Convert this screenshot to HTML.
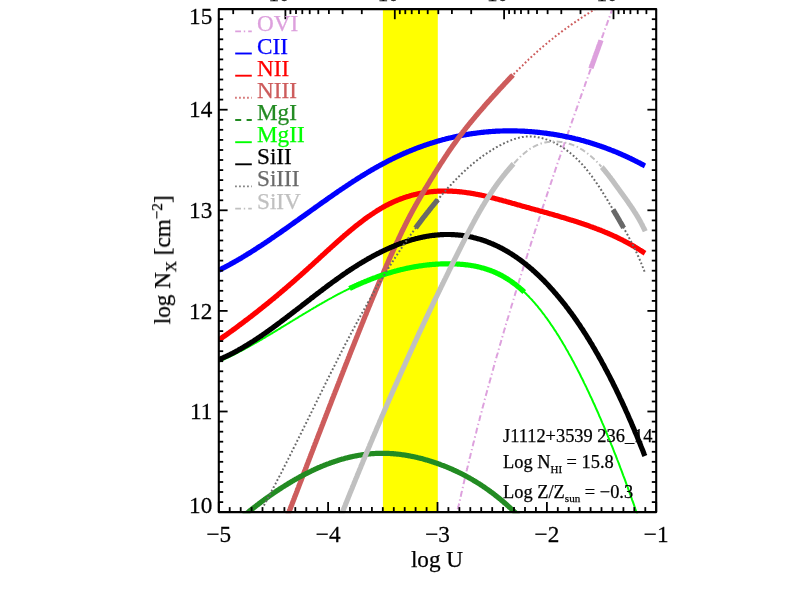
<!DOCTYPE html>
<html><head><meta charset="utf-8"><title>log N vs log U</title>
<style>html,body{margin:0;padding:0;background:#fff;}body{width:789px;height:599px;overflow:hidden;}svg{display:block;}text{font-family:"Liberation Serif",serif;fill:#000;}</style></head><body>
<svg width="789" height="599" viewBox="0 0 789 599">
<rect x="0" y="0" width="789" height="599" fill="#fff"/>
<defs><clipPath id="c"><rect x="218.0" y="8.3" width="439.0" height="505.0"/></clipPath><filter id="g" filterUnits="userSpaceOnUse" x="0" y="0" width="789" height="599"><feOffset dx="0" dy="0"/></filter></defs>
<rect x="382.9" y="9.1" width="54.9" height="503.0" fill="#ffff00"/>
<g clip-path="url(#c)" fill="none" stroke-linejoin="round">
<path d="M455.0 522.0 L455.2 521.3 L455.3 520.6 L455.5 519.8 L455.6 519.1 L455.8 518.4 L456.0 517.6 L456.1 516.9 L456.3 516.2 L456.4 515.4 L456.6 514.7 L456.8 514.0 L456.9 513.2 L457.1 512.5 L457.2 511.8 L457.4 511.0 L457.6 510.3 L457.7 509.6 L457.9 508.8 L458.0 508.1 L458.2 507.4 L458.4 506.6 L458.5 505.9 L458.7 505.2 L458.9 504.4 L459.0 503.7 L459.2 503.0 L459.4 502.2 L459.5 501.5 L459.7 500.8 L459.9 500.1 L460.0 499.3 L460.2 498.6 L460.4 497.9 L460.5 497.1 L460.7 496.4 L460.9 495.7 L461.0 494.9 L461.2 494.2 L461.4 493.5 L461.5 492.7 L461.7 492.0 L461.9 491.3 L462.0 490.5 L462.2 489.8 L462.4 489.1 L462.5 488.3 L462.7 487.6 L462.9 486.9 L463.0 486.2 L463.2 485.4 L463.4 484.7 L463.5 484.0 L463.7 483.2 L463.9 482.5 L464.1 481.8 L464.2 481.0 L464.4 480.3 L464.6 479.6 L464.7 478.9 L464.9 478.1 L465.1 477.4 L465.3 476.7 L465.4 475.9 L465.6 475.2 L465.8 474.5 L466.0 473.7 L466.1 473.0 L466.3 472.3 L466.5 471.6 L466.6 470.8 L466.8 470.1 L467.0 469.4 L467.2 468.6 L467.3 467.9 L467.5 467.2 L467.7 466.4 L467.9 465.7 L468.0 465.0 L468.2 464.3 L468.4 463.5 L468.6 462.8 L468.8 462.1 L468.9 461.3 L469.1 460.6 L469.3 459.9 L469.5 459.2 L469.6 458.4 L469.8 457.7 L470.0 457.0 L470.2 456.2 L470.4 455.5 L470.5 454.8 L470.7 454.1 L470.9 453.3 L471.1 452.6 L471.3 451.9 L471.4 451.1 L471.6 450.4 L471.8 449.7 L472.0 449.0 L472.2 448.2 L472.3 447.5 L472.5 446.8 L472.7 446.1 L472.9 445.3 L473.1 444.6 L473.2 443.9 L473.4 443.1 L473.6 442.4 L473.8 441.7 L474.0 441.0 L474.2 440.2 L474.3 439.5 L474.5 438.8 L474.7 438.1 L474.9 437.3 L475.1 436.6 L475.3 435.9 L475.4 435.1 L475.6 434.4 L475.8 433.7 L476.0 433.0 L476.2 432.2 L476.4 431.5 L476.6 430.8 L476.7 430.1 L476.9 429.3 L477.1 428.6 L477.3 427.9 L477.5 427.2 L477.7 426.4 L477.9 425.7 L478.1 425.0 L478.2 424.3 L478.4 423.5 L478.6 422.8 L478.8 422.1 L479.0 421.4 L479.2 420.6 L479.4 419.9 L479.6 419.2 L479.7 418.5 L479.9 417.7 L480.1 417.0 L480.3 416.3 L480.5 415.6 L480.7 414.8 L480.9 414.1 L481.1 413.4 L481.3 412.7 L481.5 411.9 L481.7 411.2 L481.8 410.5 L482.0 409.8 L482.2 409.0 L482.4 408.3 L482.6 407.6 L482.8 406.9 L483.0 406.1 L483.2 405.4 L483.4 404.7 L483.6 404.0 L483.8 403.2 L484.0 402.5 L484.2 401.8 L484.3 401.1 L484.5 400.3 L484.7 399.6 L484.9 398.9 L485.1 398.2 L485.3 397.4 L485.5 396.7 L485.7 396.0 L485.9 395.3 L486.1 394.5 L486.3 393.8 L486.5 393.1 L486.7 392.4 L486.9 391.6 L487.1 390.9 L487.3 390.2 L487.5 389.5 L487.7 388.8 L487.9 388.0 L488.1 387.3 L488.3 386.6 L488.5 385.9 L488.7 385.1 L488.9 384.4 L489.1 383.7 L489.3 383.0 L489.5 382.2 L489.7 381.5 L489.9 380.8 L490.1 380.1 L490.3 379.4 L490.5 378.6 L490.7 377.9 L490.9 377.2 L491.1 376.5 L491.3 375.7 L491.5 375.0 L491.7 374.3 L491.9 373.6 L492.1 372.9 L492.3 372.1 L492.5 371.4 L492.7 370.7 L492.9 370.0 L493.1 369.2 L493.3 368.5 L493.5 367.8 L493.7 367.1 L493.9 366.4 L494.1 365.6 L494.3 364.9 L494.5 364.2 L494.7 363.5 L494.9 362.8 L495.1 362.0 L495.3 361.3 L495.5 360.6 L495.7 359.9 L495.9 359.1 L496.1 358.4 L496.3 357.7 L496.5 357.0 L496.7 356.3 L496.9 355.5 L497.1 354.8 L497.4 354.1 L497.6 353.4 L497.8 352.7 L498.0 351.9 L498.2 351.2 L498.4 350.5 L498.6 349.8 L498.8 349.1 L499.0 348.3 L499.2 347.6 L499.4 346.9 L499.6 346.2 L499.8 345.5 L500.0 344.7 L500.2 344.0 L500.5 343.3 L500.7 342.6 L500.9 341.9 L501.1 341.1 L501.3 340.4 L501.5 339.7 L501.7 339.0 L501.9 338.3 L502.1 337.5 L502.3 336.8 L502.6 336.1 L502.8 335.4 L503.0 334.7 L503.2 333.9 L503.4 333.2 L503.6 332.5 L503.8 331.8 L504.0 331.1 L504.2 330.3 L504.4 329.6 L504.7 328.9 L504.9 328.2 L505.1 327.5 L505.3 326.7 L505.5 326.0 L505.7 325.3 L505.9 324.6 L506.1 323.9 L506.4 323.2 L506.6 322.4 L506.8 321.7 L507.0 321.0 L507.2 320.3 L507.4 319.6 L507.6 318.8 L507.9 318.1 L508.1 317.4 L508.3 316.7 L508.5 316.0 L508.7 315.3 L508.9 314.5 L509.1 313.8 L509.4 313.1 L509.6 312.4 L509.8 311.7 L510.0 310.9 L510.2 310.2 L510.4 309.5 L510.7 308.8 L510.9 308.1 L511.1 307.4 L511.3 306.6 L511.5 305.9 L511.7 305.2 L512.0 304.5 L512.2 303.8 L512.4 303.0 L512.6 302.3 L512.8 301.6 L513.0 300.9 L513.3 300.2 L513.5 299.5 L513.7 298.7 L513.9 298.0 L514.1 297.3 L514.4 296.6 L514.6 295.9 L514.8 295.2 L515.0 294.4 L515.2 293.7 L515.5 293.0 L515.7 292.3 L515.9 291.6 L516.1 290.9 L516.3 290.1 L516.6 289.4 L516.8 288.7 L517.0 288.0 L517.2 287.3 L517.4 286.6 L517.7 285.8 L517.9 285.1 L518.1 284.4 L518.3 283.7 L518.5 283.0 L518.8 282.3 L519.0 281.5 L519.2 280.8 L519.4 280.1 L519.6 279.4 L519.9 278.7 L520.1 278.0 L520.3 277.3 L520.5 276.5 L520.8 275.8 L521.0 275.1 L521.2 274.4 L521.4 273.7 L521.7 273.0 L521.9 272.2 L522.1 271.5 L522.3 270.8 L522.6 270.1 L522.8 269.4 L523.0 268.7 L523.2 268.0 L523.5 267.2 L523.7 266.5 L523.9 265.8 L524.1 265.1 L524.4 264.4 L524.6 263.7 L524.8 262.9 L525.0 262.2 L525.3 261.5 L525.5 260.8 L525.7 260.1 L525.9 259.4 L526.2 258.7 L526.4 257.9 L526.6 257.2 L526.8 256.5 L527.1 255.8 L527.3 255.1 L527.5 254.4 L527.7 253.7 L528.0 252.9 L528.2 252.2 L528.4 251.5 L528.7 250.8 L528.9 250.1 L529.1 249.4 L529.3 248.7 L529.6 247.9 L529.8 247.2 L530.0 246.5 L530.3 245.8 L530.5 245.1 L530.7 244.4 L530.9 243.7 L531.2 242.9 L531.4 242.2 L531.6 241.5 L531.9 240.8 L532.1 240.1 L532.3 239.4 L532.6 238.7 L532.8 237.9 L533.0 237.2 L533.2 236.5 L533.5 235.8 L533.7 235.1 L533.9 234.4 L534.2 233.7 L534.4 233.0 L534.6 232.2 L534.9 231.5 L535.1 230.8 L535.3 230.1 L535.6 229.4 L535.8 228.7 L536.0 228.0 L536.3 227.2 L536.5 226.5 L536.7 225.8 L537.0 225.1 L537.2 224.4 L537.4 223.7 L537.7 223.0 L537.9 222.3 L538.1 221.5 L538.4 220.8 L538.6 220.1 L538.8 219.4 L539.1 218.7 L539.3 218.0 L539.5 217.3 L539.8 216.6 L540.0 215.8 L540.2 215.1 L540.5 214.4 L540.7 213.7 L540.9 213.0 L541.2 212.3 L541.4 211.6 L541.6 210.9 L541.9 210.1 L542.1 209.4 L542.3 208.7 L542.6 208.0 L542.8 207.3 L543.0 206.6 L543.3 205.9 L543.5 205.2 L543.7 204.5 L544.0 203.7 L544.2 203.0 L544.5 202.3 L544.7 201.6 L544.9 200.9 L545.2 200.2 L545.4 199.5 L545.6 198.8 L545.9 198.0 L546.1 197.3 L546.4 196.6 L546.6 195.9 L546.8 195.2 L547.1 194.5 L547.3 193.8 L547.5 193.1 L547.8 192.4 L548.0 191.6 L548.3 190.9 L548.5 190.2 L548.7 189.5 L549.0 188.8 L549.2 188.1 L549.4 187.4 L549.7 186.7 L549.9 186.0 L550.2 185.2 L550.4 184.5 L550.6 183.8 L550.9 183.1 L551.1 182.4 L551.4 181.7 L551.6 181.0 L551.8 180.3 L552.1 179.6 L552.3 178.9 L552.6 178.1 L552.8 177.4 L553.0 176.7 L553.3 176.0 L553.5 175.3 L553.8 174.6 L554.0 173.9 L554.2 173.2 L554.5 172.5 L554.7 171.8 L555.0 171.0 L555.2 170.3 L555.4 169.6 L555.7 168.9 L555.9 168.2 L556.2 167.5 L556.4 166.8 L556.7 166.1 L556.9 165.4 L557.1 164.7 L557.4 163.9 L557.6 163.2 L557.9 162.5 L558.1 161.8 L558.4 161.1 L558.6 160.4 L558.8 159.7 L559.1 159.0 L559.3 158.3 L559.6 157.6 L559.8 156.8 L560.1 156.1 L560.3 155.4 L560.5 154.7 L560.8 154.0 L561.0 153.3 L561.3 152.6 L561.5 151.9 L561.8 151.2 L562.0 150.5 L562.2 149.8 L562.5 149.0 L562.7 148.3 L563.0 147.6 L563.2 146.9 L563.5 146.2 L563.7 145.5 L564.0 144.8 L564.2 144.1 L564.4 143.4 L564.7 142.7 L564.9 142.0 L565.2 141.2 L565.4 140.5 L565.7 139.8 L565.9 139.1 L566.2 138.4 L566.4 137.7 L566.7 137.0 L566.9 136.3 L567.1 135.6 L567.4 134.9 L567.6 134.2 L567.9 133.5 L568.1 132.7 L568.4 132.0 L568.6 131.3 L568.9 130.6 L569.1 129.9 L569.4 129.2 L569.6 128.5 L569.9 127.8 L570.1 127.1 L570.4 126.4 L570.6 125.7 L570.8 125.0 L571.1 124.2 L571.3 123.5 L571.6 122.8 L571.8 122.1 L572.1 121.4 L572.3 120.7 L572.6 120.0 L572.8 119.3 L573.1 118.6 L573.3 117.9 L573.6 117.2 L573.8 116.5 L574.1 115.8 L574.3 115.0 L574.6 114.3 L574.8 113.6 L575.1 112.9 L575.3 112.2 L575.6 111.5 L575.8 110.8 L576.1 110.1 L576.3 109.4 L576.6 108.7 L576.8 108.0 L577.1 107.3 L577.3 106.6 L577.6 105.9 L577.8 105.1 L578.1 104.4 L578.3 103.7 L578.5 103.0 L578.8 102.3 L579.0 101.6 L579.3 100.9 L579.5 100.2 L579.8 99.5 L580.0 98.8 L580.3 98.1 L580.5 97.4 L580.8 96.7 L581.1 96.0 L581.3 95.2 L581.6 94.5 L581.8 93.8 L582.1 93.1 L582.3 92.4 L582.6 91.7 L582.8 91.0 L583.1 90.3 L583.3 89.6 L583.6 88.9 L583.8 88.2 L584.1 87.5 L584.3 86.8 L584.6 86.1 L584.8 85.4 L585.1 84.7 L585.3 83.9 L585.6 83.2 L585.8 82.5 L586.1 81.8 L586.3 81.1 L586.6 80.4 L586.8 79.7 L587.1 79.0 L587.3 78.3 L587.6 77.6 L587.8 76.9 L588.1 76.2 L588.3 75.5 L588.6 74.8 L588.8 74.1 L589.1 73.4 L589.4 72.6 L589.6 71.9 L589.9 71.2 L590.1 70.5 L590.4 69.8 L590.6 69.1 L590.9 68.4 L591.1 67.7 L591.4 67.0 L591.6 66.3 L591.9 65.6 L592.1 64.9 L592.4 64.2 L592.6 63.5 L592.9 62.8 L593.1 62.1 L593.4 61.4 L593.7 60.7 L593.9 59.9 L594.2 59.2 L594.4 58.5 L594.7 57.8 L594.9 57.1 L595.2 56.4 L595.4 55.7 L595.7 55.0 L595.9 54.3 L596.2 53.6 L596.5 52.9 L596.7 52.2 L597.0 51.5 L597.2 50.8 L597.5 50.1 L597.7 49.4 L598.0 48.7 L598.2 48.0 L598.5 47.3 L598.7 46.5 L599.0 45.8 L599.3 45.1 L599.5 44.4 L599.8 43.7 L600.0 43.0 L600.3 42.3 L600.5 41.6 L600.8 40.9 L601.0 40.2 L601.3 39.5 L601.5 38.8 L601.8 38.1 L602.1 37.4 L602.3 36.7 L602.6 36.0 L602.8 35.3 L603.1 34.6 L603.3 33.9 L603.6 33.2 L603.8 32.5 L604.1 31.7 L604.4 31.0 L604.6 30.3 L604.9 29.6 L605.1 28.9 L605.4 28.2 L605.6 27.5 L605.9 26.8 L606.2 26.1 L606.4 25.4 L606.7 24.7 L606.9 24.0 L607.2 23.3 L607.4 22.6 L607.7 21.9 L607.9 21.2 L608.2 20.5 L608.5 19.8 L608.7 19.1 L609.0 18.4 L609.2 17.7 L609.5 17.0 L609.7 16.3 L610.0 15.6 L610.3 14.8 L610.5 14.1 L610.8 13.4 L611.0 12.7 L611.3 12.0 L611.5 11.3 L611.8 10.6 L612.1 9.9 L612.3 9.2 L612.6 8.5 L612.8 7.8 L613.1 7.1 L613.3 6.4 L613.6 5.7 L613.9 5.0 L614.1 4.3 L614.4 3.6 L614.6 2.9 L614.9 2.2 L615.1 1.5 L615.4 0.8 L615.7 0.1" stroke="#dda0dd" stroke-width="2.0" stroke-dasharray="6 2.8 1.4 2.8"/>
<path d="M590.9 68.4 L591.1 67.7 L591.4 67.0 L591.6 66.3 L591.9 65.6 L592.1 64.9 L592.4 64.2 L592.6 63.5 L592.9 62.8 L593.1 62.1 L593.4 61.4 L593.7 60.7 L593.9 59.9 L594.2 59.2 L594.4 58.5 L594.7 57.8 L594.9 57.1 L595.2 56.4 L595.4 55.7 L595.7 55.0 L595.9 54.3 L596.2 53.6 L596.5 52.9 L596.7 52.2 L597.0 51.5 L597.2 50.8 L597.5 50.1 L597.7 49.4 L598.0 48.7 L598.2 48.0 L598.5 47.3 L598.7 46.5 L599.0 45.8 L599.3 45.1 L599.5 44.4 L599.8 43.7 L600.0 43.0 L600.3 42.3 L600.5 41.6 L600.8 40.9 L601.0 40.2" stroke="#dda0dd" stroke-width="5.2"/>
<path d="M219.0 270.1 L219.8 269.8 L220.5 269.4 L221.2 269.0 L222.0 268.6 L222.8 268.2 L223.5 267.9 L224.2 267.5 L225.0 267.1 L225.8 266.7 L226.5 266.3 L227.2 265.9 L228.0 265.5 L228.8 265.1 L229.5 264.7 L230.2 264.3 L231.0 263.8 L231.8 263.4 L232.5 263.0 L233.2 262.6 L234.0 262.2 L234.8 261.7 L235.5 261.3 L236.2 260.9 L237.0 260.5 L237.8 260.0 L238.5 259.6 L239.2 259.2 L240.0 258.7 L240.8 258.3 L241.5 257.8 L242.2 257.4 L243.0 256.9 L243.8 256.5 L244.5 256.0 L245.2 255.6 L246.0 255.1 L246.8 254.7 L247.5 254.2 L248.2 253.7 L249.0 253.3 L249.8 252.8 L250.5 252.3 L251.2 251.9 L252.0 251.4 L252.8 250.9 L253.5 250.4 L254.2 250.0 L255.0 249.5 L255.8 249.0 L256.5 248.5 L257.2 248.0 L258.0 247.5 L258.8 247.0 L259.5 246.6 L260.2 246.1 L261.0 245.6 L261.8 245.1 L262.5 244.6 L263.2 244.1 L264.0 243.6 L264.8 243.1 L265.5 242.6 L266.2 242.1 L267.0 241.6 L267.8 241.1 L268.5 240.6 L269.2 240.1 L270.0 239.6 L270.8 239.0 L271.5 238.5 L272.2 238.0 L273.0 237.5 L273.8 237.0 L274.5 236.5 L275.2 236.0 L276.0 235.4 L276.8 234.9 L277.5 234.4 L278.2 233.9 L279.0 233.4 L279.8 232.8 L280.5 232.3 L281.2 231.8 L282.0 231.3 L282.8 230.7 L283.5 230.2 L284.2 229.7 L285.0 229.2 L285.8 228.6 L286.5 228.1 L287.2 227.6 L288.0 227.0 L288.8 226.5 L289.5 226.0 L290.2 225.4 L291.0 224.9 L291.8 224.4 L292.5 223.8 L293.2 223.3 L294.0 222.8 L294.8 222.2 L295.5 221.7 L296.2 221.2 L297.0 220.6 L297.8 220.1 L298.5 219.6 L299.2 219.0 L300.0 218.5 L300.8 217.9 L301.5 217.4 L302.2 216.9 L303.0 216.3 L303.8 215.8 L304.5 215.3 L305.2 214.7 L306.0 214.2 L306.8 213.6 L307.5 213.1 L308.2 212.6 L309.0 212.0 L309.8 211.5 L310.5 211.0 L311.2 210.4 L312.0 209.9 L312.8 209.4 L313.5 208.8 L314.2 208.3 L315.0 207.7 L315.8 207.2 L316.5 206.7 L317.2 206.1 L318.0 205.6 L318.8 205.1 L319.5 204.5 L320.2 204.0 L321.0 203.5 L321.8 202.9 L322.5 202.4 L323.2 201.9 L324.0 201.4 L324.8 200.8 L325.5 200.3 L326.2 199.8 L327.0 199.2 L327.8 198.7 L328.5 198.2 L329.2 197.7 L330.0 197.1 L330.8 196.6 L331.5 196.1 L332.2 195.6 L333.0 195.0 L333.8 194.5 L334.5 194.0 L335.2 193.5 L336.0 193.0 L336.8 192.5 L337.5 191.9 L338.2 191.4 L339.0 190.9 L339.8 190.4 L340.5 189.9 L341.2 189.4 L342.0 188.9 L342.8 188.4 L343.5 187.9 L344.2 187.4 L345.0 186.9 L345.8 186.4 L346.5 185.9 L347.2 185.4 L348.0 184.9 L348.8 184.4 L349.5 183.9 L350.2 183.4 L351.0 182.9 L351.8 182.4 L352.5 181.9 L353.2 181.4 L354.0 180.9 L354.8 180.5 L355.5 180.0 L356.2 179.5 L357.0 179.0 L357.8 178.5 L358.5 178.1 L359.2 177.6 L360.0 177.1 L360.8 176.6 L361.5 176.2 L362.2 175.7 L363.0 175.3 L363.8 174.8 L364.5 174.3 L365.2 173.9 L366.0 173.4 L366.8 173.0 L367.5 172.5 L368.2 172.1 L369.0 171.6 L369.8 171.2 L370.5 170.7 L371.2 170.3 L372.0 169.8 L372.8 169.4 L373.5 169.0 L374.2 168.5 L375.0 168.1 L375.8 167.7 L376.5 167.3 L377.2 166.8 L378.0 166.4 L378.8 166.0 L379.5 165.6 L380.2 165.2 L381.0 164.8 L381.8 164.4 L382.5 164.0 L383.2 163.6 L384.0 163.2 L384.8 162.8 L385.5 162.4 L386.2 162.0 L387.0 161.6 L387.8 161.2 L388.5 160.8 L389.2 160.4 L390.0 160.0 L390.8 159.7 L391.5 159.3 L392.2 158.9 L393.0 158.6 L393.8 158.2 L394.5 157.8 L395.2 157.5 L396.0 157.1 L396.8 156.8 L397.5 156.4 L398.2 156.1 L399.0 155.7 L399.8 155.4 L400.5 155.0 L401.2 154.7 L402.0 154.3 L402.8 154.0 L403.5 153.7 L404.2 153.3 L405.0 153.0 L405.8 152.7 L406.5 152.4 L407.2 152.0 L408.0 151.7 L408.8 151.4 L409.5 151.1 L410.2 150.8 L411.0 150.5 L411.8 150.2 L412.5 149.9 L413.2 149.6 L414.0 149.3 L414.8 149.0 L415.5 148.7 L416.2 148.4 L417.0 148.1 L417.8 147.8 L418.5 147.6 L419.2 147.3 L420.0 147.0 L420.8 146.7 L421.5 146.4 L422.2 146.2 L423.0 145.9 L423.8 145.6 L424.5 145.4 L425.2 145.1 L426.0 144.9 L426.8 144.6 L427.5 144.4 L428.2 144.1 L429.0 143.9 L429.8 143.6 L430.5 143.4 L431.2 143.1 L432.0 142.9 L432.8 142.7 L433.5 142.4 L434.2 142.2 L435.0 142.0 L435.8 141.7 L436.5 141.5 L437.2 141.3 L438.0 141.1 L438.8 140.9 L439.5 140.6 L440.2 140.4 L441.0 140.2 L441.8 140.0 L442.5 139.8 L443.2 139.6 L444.0 139.4 L444.8 139.2 L445.5 139.0 L446.2 138.8 L447.0 138.6 L447.8 138.5 L448.5 138.3 L449.2 138.1 L450.0 137.9 L450.8 137.7 L451.5 137.6 L452.2 137.4 L453.0 137.2 L453.8 137.0 L454.5 136.9 L455.2 136.7 L456.0 136.5 L456.8 136.4 L457.5 136.2 L458.2 136.1 L459.0 135.9 L459.8 135.8 L460.5 135.6 L461.2 135.5 L462.0 135.3 L462.8 135.2 L463.5 135.1 L464.2 134.9 L465.0 134.8 L465.8 134.7 L466.5 134.5 L467.2 134.4 L468.0 134.3 L468.8 134.2 L469.5 134.0 L470.2 133.9 L471.0 133.8 L471.8 133.7 L472.5 133.6 L473.2 133.5 L474.0 133.4 L474.8 133.3 L475.5 133.2 L476.2 133.1 L477.0 133.0 L477.8 132.9 L478.5 132.8 L479.2 132.7 L480.0 132.6 L480.8 132.5 L481.5 132.4 L482.2 132.3 L483.0 132.3 L483.8 132.2 L484.5 132.1 L485.2 132.0 L486.0 132.0 L486.8 131.9 L487.5 131.8 L488.2 131.8 L489.0 131.7 L489.8 131.6 L490.5 131.6 L491.2 131.5 L492.0 131.5 L492.8 131.4 L493.5 131.4 L494.2 131.3 L495.0 131.3 L495.8 131.2 L496.5 131.2 L497.2 131.2 L498.0 131.1 L498.8 131.1 L499.5 131.1 L500.2 131.0 L501.0 131.0 L501.8 131.0 L502.5 131.0 L503.2 130.9 L504.0 130.9 L504.8 130.9 L505.5 130.9 L506.2 130.9 L507.0 130.9 L507.8 130.9 L508.5 130.9 L509.2 130.9 L510.0 130.9 L510.8 130.9 L511.5 130.9 L512.2 130.9 L513.0 130.9 L513.8 130.9 L514.5 130.9 L515.2 130.9 L516.0 130.9 L516.8 130.9 L517.5 131.0 L518.2 131.0 L519.0 131.0 L519.8 131.0 L520.5 131.1 L521.2 131.1 L522.0 131.1 L522.8 131.2 L523.5 131.2 L524.2 131.2 L525.0 131.3 L525.8 131.3 L526.5 131.4 L527.2 131.4 L528.0 131.5 L528.8 131.5 L529.5 131.6 L530.2 131.6 L531.0 131.7 L531.8 131.7 L532.5 131.8 L533.2 131.9 L534.0 131.9 L534.8 132.0 L535.5 132.1 L536.2 132.1 L537.0 132.2 L537.8 132.3 L538.5 132.4 L539.2 132.4 L540.0 132.5 L540.8 132.6 L541.5 132.7 L542.2 132.8 L543.0 132.9 L543.8 133.0 L544.5 133.1 L545.2 133.2 L546.0 133.2 L546.8 133.3 L547.5 133.5 L548.2 133.6 L549.0 133.7 L549.8 133.8 L550.5 133.9 L551.2 134.0 L552.0 134.1 L552.8 134.2 L553.5 134.3 L554.2 134.5 L555.0 134.6 L555.8 134.7 L556.5 134.8 L557.2 135.0 L558.0 135.1 L558.8 135.2 L559.5 135.4 L560.2 135.5 L561.0 135.6 L561.8 135.8 L562.5 135.9 L563.2 136.1 L564.0 136.2 L564.8 136.4 L565.5 136.5 L566.2 136.7 L567.0 136.8 L567.8 137.0 L568.5 137.2 L569.2 137.3 L570.0 137.5 L570.8 137.6 L571.5 137.8 L572.2 138.0 L573.0 138.2 L573.8 138.3 L574.5 138.5 L575.2 138.7 L576.0 138.9 L576.8 139.1 L577.5 139.3 L578.2 139.4 L579.0 139.6 L579.8 139.8 L580.5 140.0 L581.2 140.2 L582.0 140.4 L582.8 140.6 L583.5 140.8 L584.2 141.0 L585.0 141.3 L585.8 141.5 L586.5 141.7 L587.2 141.9 L588.0 142.1 L588.8 142.3 L589.5 142.6 L590.2 142.8 L591.0 143.0 L591.8 143.3 L592.5 143.5 L593.2 143.7 L594.0 144.0 L594.8 144.2 L595.5 144.4 L596.2 144.7 L597.0 144.9 L597.8 145.2 L598.5 145.4 L599.2 145.7 L600.0 145.9 L600.8 146.2 L601.5 146.5 L602.2 146.7 L603.0 147.0 L603.8 147.3 L604.5 147.5 L605.2 147.8 L606.0 148.1 L606.8 148.4 L607.5 148.7 L608.2 148.9 L609.0 149.2 L609.8 149.5 L610.5 149.8 L611.2 150.1 L612.0 150.4 L612.8 150.7 L613.5 151.0 L614.2 151.3 L615.0 151.6 L615.8 151.9 L616.5 152.2 L617.2 152.5 L618.0 152.8 L618.8 153.2 L619.5 153.5 L620.2 153.8 L621.0 154.1 L621.8 154.5 L622.5 154.8 L623.2 155.1 L624.0 155.5 L624.8 155.8 L625.5 156.1 L626.2 156.5 L627.0 156.8 L627.8 157.2 L628.5 157.5 L629.2 157.9 L630.0 158.2 L630.8 158.6 L631.5 159.0 L632.2 159.3 L633.0 159.7 L633.8 160.1 L634.5 160.4 L635.2 160.8 L636.0 161.2 L636.8 161.6 L637.5 161.9 L638.2 162.3 L639.0 162.7 L639.8 163.1 L640.5 163.5 L641.2 163.9 L642.0 164.3 L642.8 164.7 L643.5 165.1 L644.2 165.5 L645.0 165.9" stroke="#0000ff" stroke-width="5.2"/>
<path d="M219.0 339.8 L219.8 339.3 L220.5 338.8 L221.2 338.3 L222.0 337.8 L222.8 337.2 L223.5 336.7 L224.2 336.2 L225.0 335.7 L225.8 335.1 L226.5 334.6 L227.2 334.1 L228.0 333.5 L228.8 333.0 L229.5 332.5 L230.2 331.9 L231.0 331.4 L231.8 330.8 L232.5 330.3 L233.2 329.7 L234.0 329.2 L234.8 328.7 L235.5 328.1 L236.2 327.6 L237.0 327.0 L237.8 326.5 L238.5 325.9 L239.2 325.3 L240.0 324.8 L240.8 324.2 L241.5 323.7 L242.2 323.1 L243.0 322.5 L243.8 322.0 L244.5 321.4 L245.2 320.8 L246.0 320.3 L246.8 319.7 L247.5 319.1 L248.2 318.6 L249.0 318.0 L249.8 317.4 L250.5 316.8 L251.2 316.3 L252.0 315.7 L252.8 315.1 L253.5 314.5 L254.2 313.9 L255.0 313.3 L255.8 312.8 L256.5 312.2 L257.2 311.6 L258.0 311.0 L258.8 310.4 L259.5 309.8 L260.2 309.2 L261.0 308.6 L261.8 308.0 L262.5 307.4 L263.2 306.8 L264.0 306.2 L264.8 305.6 L265.5 305.0 L266.2 304.4 L267.0 303.8 L267.8 303.2 L268.5 302.6 L269.2 302.0 L270.0 301.3 L270.8 300.7 L271.5 300.1 L272.2 299.5 L273.0 298.9 L273.8 298.3 L274.5 297.6 L275.2 297.0 L276.0 296.4 L276.8 295.8 L277.5 295.1 L278.2 294.5 L279.0 293.9 L279.8 293.2 L280.5 292.6 L281.2 292.0 L282.0 291.3 L282.8 290.7 L283.5 290.1 L284.2 289.4 L285.0 288.8 L285.8 288.2 L286.5 287.5 L287.2 286.9 L288.0 286.2 L288.8 285.6 L289.5 284.9 L290.2 284.3 L291.0 283.6 L291.8 283.0 L292.5 282.3 L293.2 281.7 L294.0 281.0 L294.8 280.4 L295.5 279.7 L296.2 279.0 L297.0 278.4 L297.8 277.7 L298.5 277.0 L299.2 276.4 L300.0 275.7 L300.8 275.0 L301.5 274.4 L302.2 273.7 L303.0 273.0 L303.8 272.4 L304.5 271.7 L305.2 271.0 L306.0 270.3 L306.8 269.7 L307.5 269.0 L308.2 268.3 L309.0 267.6 L309.8 266.9 L310.5 266.2 L311.2 265.6 L312.0 264.9 L312.8 264.2 L313.5 263.5 L314.2 262.8 L315.0 262.1 L315.8 261.4 L316.5 260.8 L317.2 260.1 L318.0 259.4 L318.8 258.7 L319.5 258.0 L320.2 257.3 L321.0 256.6 L321.8 255.9 L322.5 255.2 L323.2 254.6 L324.0 253.9 L324.8 253.2 L325.5 252.5 L326.2 251.8 L327.0 251.1 L327.8 250.4 L328.5 249.8 L329.2 249.1 L330.0 248.4 L330.8 247.7 L331.5 247.0 L332.2 246.4 L333.0 245.7 L333.8 245.0 L334.5 244.3 L335.2 243.7 L336.0 243.0 L336.8 242.3 L337.5 241.6 L338.2 241.0 L339.0 240.3 L339.8 239.7 L340.5 239.0 L341.2 238.3 L342.0 237.7 L342.8 237.0 L343.5 236.4 L344.2 235.7 L345.0 235.1 L345.8 234.4 L346.5 233.8 L347.2 233.2 L348.0 232.5 L348.8 231.9 L349.5 231.3 L350.2 230.6 L351.0 230.0 L351.8 229.4 L352.5 228.8 L353.2 228.2 L354.0 227.5 L354.8 226.9 L355.5 226.3 L356.2 225.7 L357.0 225.1 L357.8 224.5 L358.5 223.9 L359.2 223.4 L360.0 222.8 L360.8 222.2 L361.5 221.6 L362.2 221.1 L363.0 220.5 L363.8 219.9 L364.5 219.4 L365.2 218.8 L366.0 218.3 L366.8 217.7 L367.5 217.2 L368.2 216.7 L369.0 216.1 L369.8 215.6 L370.5 215.1 L371.2 214.6 L372.0 214.1 L372.8 213.6 L373.5 213.1 L374.2 212.6 L375.0 212.1 L375.8 211.6 L376.5 211.1 L377.2 210.6 L378.0 210.2 L378.8 209.7 L379.5 209.3 L380.2 208.8 L381.0 208.4 L381.8 207.9 L382.5 207.5 L383.2 207.1 L384.0 206.7 L384.8 206.2 L385.5 205.8 L386.2 205.4 L387.0 205.0 L387.8 204.7 L388.5 204.3 L389.2 203.9 L390.0 203.5 L390.8 203.2 L391.5 202.8 L392.2 202.5 L393.0 202.1 L393.8 201.8 L394.5 201.4 L395.2 201.1 L396.0 200.8 L396.8 200.5 L397.5 200.2 L398.2 199.9 L399.0 199.6 L399.8 199.3 L400.5 199.0 L401.2 198.7 L402.0 198.4 L402.8 198.2 L403.5 197.9 L404.2 197.6 L405.0 197.4 L405.8 197.1 L406.5 196.9 L407.2 196.6 L408.0 196.4 L408.8 196.2 L409.5 196.0 L410.2 195.7 L411.0 195.5 L411.8 195.3 L412.5 195.1 L413.2 194.9 L414.0 194.7 L414.8 194.6 L415.5 194.4 L416.2 194.2 L417.0 194.0 L417.8 193.9 L418.5 193.7 L419.2 193.5 L420.0 193.4 L420.8 193.2 L421.5 193.1 L422.2 193.0 L423.0 192.8 L423.8 192.7 L424.5 192.6 L425.2 192.5 L426.0 192.4 L426.8 192.3 L427.5 192.2 L428.2 192.1 L429.0 192.0 L429.8 191.9 L430.5 191.8 L431.2 191.7 L432.0 191.6 L432.8 191.6 L433.5 191.5 L434.2 191.4 L435.0 191.4 L435.8 191.3 L436.5 191.3 L437.2 191.2 L438.0 191.2 L438.8 191.2 L439.5 191.1 L440.2 191.1 L441.0 191.1 L441.8 191.1 L442.5 191.0 L443.2 191.0 L444.0 191.0 L444.8 191.0 L445.5 191.0 L446.2 191.0 L447.0 191.0 L447.8 191.1 L448.5 191.1 L449.2 191.1 L450.0 191.1 L450.8 191.1 L451.5 191.2 L452.2 191.2 L453.0 191.3 L453.8 191.3 L454.5 191.3 L455.2 191.4 L456.0 191.4 L456.8 191.5 L457.5 191.6 L458.2 191.6 L459.0 191.7 L459.8 191.8 L460.5 191.9 L461.2 191.9 L462.0 192.0 L462.8 192.1 L463.5 192.2 L464.2 192.3 L465.0 192.4 L465.8 192.5 L466.5 192.6 L467.2 192.7 L468.0 192.8 L468.8 192.9 L469.5 193.0 L470.2 193.1 L471.0 193.3 L471.8 193.4 L472.5 193.5 L473.2 193.6 L474.0 193.8 L474.8 193.9 L475.5 194.1 L476.2 194.2 L477.0 194.3 L477.8 194.5 L478.5 194.6 L479.2 194.8 L480.0 194.9 L480.8 195.1 L481.5 195.3 L482.2 195.4 L483.0 195.6 L483.8 195.8 L484.5 195.9 L485.2 196.1 L486.0 196.3 L486.8 196.4 L487.5 196.6 L488.2 196.8 L489.0 197.0 L489.8 197.2 L490.5 197.3 L491.2 197.5 L492.0 197.7 L492.8 197.9 L493.5 198.1 L494.2 198.3 L495.0 198.5 L495.8 198.7 L496.5 198.9 L497.2 199.1 L498.0 199.3 L498.8 199.5 L499.5 199.7 L500.2 199.9 L501.0 200.1 L501.8 200.3 L502.5 200.5 L503.2 200.7 L504.0 200.9 L504.8 201.1 L505.5 201.3 L506.2 201.5 L507.0 201.7 L507.8 201.9 L508.5 202.1 L509.2 202.4 L510.0 202.6 L510.8 202.8 L511.5 203.0 L512.2 203.2 L513.0 203.4 L513.8 203.6 L514.5 203.8 L515.2 204.0 L516.0 204.3 L516.8 204.5 L517.5 204.7 L518.2 204.9 L519.0 205.1 L519.8 205.3 L520.5 205.5 L521.2 205.7 L522.0 205.9 L522.8 206.2 L523.5 206.4 L524.2 206.6 L525.0 206.8 L525.8 207.0 L526.5 207.2 L527.2 207.4 L528.0 207.6 L528.8 207.8 L529.5 208.0 L530.2 208.2 L531.0 208.4 L531.8 208.7 L532.5 208.9 L533.2 209.1 L534.0 209.3 L534.8 209.5 L535.5 209.7 L536.2 209.9 L537.0 210.1 L537.8 210.3 L538.5 210.5 L539.2 210.7 L540.0 210.9 L540.8 211.2 L541.5 211.4 L542.2 211.6 L543.0 211.8 L543.8 212.0 L544.5 212.2 L545.2 212.4 L546.0 212.6 L546.8 212.8 L547.5 213.0 L548.2 213.3 L549.0 213.5 L549.8 213.7 L550.5 213.9 L551.2 214.1 L552.0 214.3 L552.8 214.5 L553.5 214.7 L554.2 215.0 L555.0 215.2 L555.8 215.4 L556.5 215.6 L557.2 215.8 L558.0 216.1 L558.8 216.3 L559.5 216.5 L560.2 216.7 L561.0 216.9 L561.8 217.2 L562.5 217.4 L563.2 217.6 L564.0 217.8 L564.8 218.1 L565.5 218.3 L566.2 218.5 L567.0 218.7 L567.8 219.0 L568.5 219.2 L569.2 219.4 L570.0 219.7 L570.8 219.9 L571.5 220.1 L572.2 220.4 L573.0 220.6 L573.8 220.8 L574.5 221.1 L575.2 221.3 L576.0 221.6 L576.8 221.8 L577.5 222.0 L578.2 222.3 L579.0 222.5 L579.8 222.8 L580.5 223.0 L581.2 223.3 L582.0 223.5 L582.8 223.8 L583.5 224.0 L584.2 224.3 L585.0 224.5 L585.8 224.8 L586.5 225.1 L587.2 225.3 L588.0 225.6 L588.8 225.8 L589.5 226.1 L590.2 226.4 L591.0 226.7 L591.8 226.9 L592.5 227.2 L593.2 227.5 L594.0 227.8 L594.8 228.0 L595.5 228.3 L596.2 228.6 L597.0 228.9 L597.8 229.2 L598.5 229.5 L599.2 229.8 L600.0 230.0 L600.8 230.3 L601.5 230.6 L602.2 230.9 L603.0 231.2 L603.8 231.6 L604.5 231.9 L605.2 232.2 L606.0 232.5 L606.8 232.8 L607.5 233.1 L608.2 233.4 L609.0 233.8 L609.8 234.1 L610.5 234.4 L611.2 234.8 L612.0 235.1 L612.8 235.4 L613.5 235.8 L614.2 236.1 L615.0 236.5 L615.8 236.8 L616.5 237.2 L617.2 237.5 L618.0 237.9 L618.8 238.3 L619.5 238.6 L620.2 239.0 L621.0 239.4 L621.8 239.7 L622.5 240.1 L623.2 240.5 L624.0 240.9 L624.8 241.3 L625.5 241.7 L626.2 242.1 L627.0 242.5 L627.8 242.9 L628.5 243.3 L629.2 243.7 L630.0 244.1 L630.8 244.5 L631.5 244.9 L632.2 245.4 L633.0 245.8 L633.8 246.2 L634.5 246.7 L635.2 247.1 L636.0 247.6 L636.8 248.0 L637.5 248.5 L638.2 248.9 L639.0 249.4 L639.8 249.9 L640.5 250.3 L641.2 250.8 L642.0 251.3 L642.8 251.8 L643.5 252.3 L644.2 252.7 L645.0 253.2" stroke="#ff0000" stroke-width="5.2"/>
<path d="M285.1 522.0 L285.4 521.3 L285.7 520.6 L286.0 519.9 L286.2 519.2 L286.5 518.5 L286.8 517.8 L287.0 517.1 L287.3 516.4 L287.6 515.7 L287.8 515.0 L288.1 514.3 L288.4 513.6 L288.6 512.9 L288.9 512.2 L289.2 511.5 L289.4 510.8 L289.7 510.1 L290.0 509.4 L290.3 508.7 L290.5 508.0 L290.8 507.3 L291.1 506.6 L291.3 505.9 L291.6 505.2 L291.9 504.5 L292.1 503.8 L292.4 503.1 L292.7 502.4 L292.9 501.7 L293.2 501.0 L293.5 500.3 L293.7 499.6 L294.0 498.9 L294.3 498.2 L294.5 497.5 L294.8 496.8 L295.1 496.1 L295.4 495.4 L295.6 494.7 L295.9 494.0 L296.2 493.3 L296.4 492.6 L296.7 491.9 L297.0 491.2 L297.2 490.5 L297.5 489.8 L297.8 489.1 L298.0 488.4 L298.3 487.7 L298.6 487.0 L298.8 486.3 L299.1 485.6 L299.4 484.9 L299.6 484.2 L299.9 483.5 L300.2 482.8 L300.4 482.1 L300.7 481.4 L301.0 480.7 L301.3 480.0 L301.5 479.3 L301.8 478.6 L302.1 477.9 L302.3 477.2 L302.6 476.5 L302.9 475.8 L303.1 475.1 L303.4 474.4 L303.7 473.7 L303.9 473.0 L304.2 472.3 L304.5 471.6 L304.7 470.9 L305.0 470.2 L305.3 469.5 L305.5 468.8 L305.8 468.1 L306.1 467.4 L306.4 466.7 L306.6 466.0 L306.9 465.3 L307.2 464.6 L307.4 463.9 L307.7 463.2 L308.0 462.5 L308.2 461.8 L308.5 461.1 L308.8 460.4 L309.0 459.7 L309.3 459.0 L309.6 458.3 L309.8 457.6 L310.1 456.9 L310.4 456.2 L310.6 455.5 L310.9 454.8 L311.2 454.1 L311.5 453.4 L311.7 452.7 L312.0 452.0 L312.3 451.3 L312.5 450.6 L312.8 449.9 L313.1 449.2 L313.3 448.5 L313.6 447.8 L313.9 447.1 L314.1 446.4 L314.4 445.7 L314.7 445.0 L314.9 444.3 L315.2 443.6 L315.5 442.9 L315.8 442.2 L316.0 441.5 L316.3 440.8 L316.6 440.1 L316.8 439.4 L317.1 438.7 L317.4 438.0 L317.6 437.3 L317.9 436.6 L318.2 435.9 L318.4 435.2 L318.7 434.5 L319.0 433.8 L319.3 433.1 L319.5 432.4 L319.8 431.7 L320.1 431.0 L320.3 430.3 L320.6 429.6 L320.9 428.9 L321.1 428.2 L321.4 427.5 L321.7 426.8 L321.9 426.1 L322.2 425.4 L322.5 424.7 L322.8 424.0 L323.0 423.3 L323.3 422.6 L323.6 421.9 L323.8 421.2 L324.1 420.5 L324.4 419.8 L324.6 419.1 L324.9 418.4 L325.2 417.7 L325.5 417.0 L325.7 416.3 L326.0 415.6 L326.3 414.9 L326.5 414.2 L326.8 413.5 L327.1 412.8 L327.3 412.1 L327.6 411.4 L327.9 410.7 L328.2 410.0 L328.4 409.3 L328.7 408.6 L329.0 407.9 L329.2 407.2 L329.5 406.5 L329.8 405.8 L330.1 405.1 L330.3 404.4 L330.6 403.7 L330.9 403.0 L331.1 402.3 L331.4 401.6 L331.7 400.9 L331.9 400.2 L332.2 399.5 L332.5 398.8 L332.8 398.1 L333.0 397.4 L333.3 396.7 L333.6 396.0 L333.8 395.3 L334.1 394.6 L334.4 393.9 L334.7 393.2 L334.9 392.5 L335.2 391.8 L335.5 391.1 L335.8 390.4 L336.0 389.7 L336.3 389.1 L336.6 388.4 L336.8 387.7 L337.1 387.0 L337.4 386.3 L337.7 385.6 L337.9 384.9 L338.2 384.2 L338.5 383.5 L338.7 382.8 L339.0 382.1 L339.3 381.4 L339.6 380.7 L339.8 380.0 L340.1 379.3 L340.4 378.6 L340.7 377.9 L340.9 377.2 L341.2 376.5 L341.5 375.8 L341.8 375.1 L342.0 374.4 L342.3 373.7 L342.6 373.0 L342.8 372.3 L343.1 371.6 L343.4 370.9 L343.7 370.2 L343.9 369.5 L344.2 368.8 L344.5 368.1 L344.8 367.4 L345.0 366.7 L345.3 366.0 L345.6 365.3 L345.9 364.6 L346.1 363.9 L346.4 363.2 L346.7 362.5 L347.0 361.8 L347.2 361.1 L347.5 360.4 L347.8 359.7 L348.1 359.0 L348.3 358.3 L348.6 357.6 L348.9 356.9 L349.2 356.2 L349.4 355.5 L349.7 354.8 L350.0 354.1 L350.3 353.4 L350.5 352.7 L350.8 352.0 L351.1 351.3 L351.4 350.6 L351.6 349.9 L351.9 349.2 L352.2 348.5 L352.5 347.9 L352.7 347.2 L353.0 346.5 L353.3 345.8 L353.6 345.1 L353.9 344.4 L354.1 343.7 L354.4 343.0 L354.7 342.3 L355.0 341.6 L355.2 340.9 L355.5 340.2 L355.8 339.5 L356.1 338.8 L356.3 338.1 L356.6 337.4 L356.9 336.7 L357.2 336.0 L357.5 335.3 L357.7 334.6 L358.0 333.9 L358.3 333.2 L358.6 332.5 L358.9 331.8 L359.1 331.1 L359.4 330.4 L359.7 329.7 L360.0 329.0 L360.3 328.3 L360.5 327.6 L360.8 326.9 L361.1 326.2 L361.4 325.5 L361.7 324.8 L361.9 324.1 L362.2 323.4 L362.5 322.7 L362.8 322.1 L363.1 321.4 L363.3 320.7 L363.6 320.0 L363.9 319.3 L364.2 318.6 L364.5 317.9 L364.7 317.2 L365.0 316.5 L365.3 315.8 L365.6 315.1 L365.9 314.4 L366.2 313.7 L366.4 313.0 L366.7 312.3 L367.0 311.6 L367.3 310.9 L367.6 310.2 L367.9 309.5 L368.2 308.8 L368.4 308.1 L368.7 307.4 L369.0 306.7 L369.3 306.1 L369.6 305.4 L369.9 304.7 L370.1 304.0 L370.4 303.3 L370.7 302.6 L371.0 301.9 L371.3 301.2 L371.6 300.5 L371.9 299.8 L372.2 299.1 L372.4 298.4 L372.7 297.7 L373.0 297.0 L373.3 296.3 L373.6 295.7 L373.9 295.0 L374.2 294.3 L374.5 293.6 L374.8 292.9 L375.0 292.2 L375.3 291.5 L375.6 290.8 L375.9 290.1 L376.2 289.4 L376.5 288.7 L376.8 288.0 L377.1 287.3 L377.4 286.7 L377.7 286.0 L378.0 285.3 L378.3 284.6 L378.5 283.9 L378.8 283.2 L379.1 282.5 L379.4 281.8 L379.7 281.1 L380.0 280.4 L380.3 279.8 L380.6 279.1 L380.9 278.4 L381.2 277.7 L381.5 277.0 L381.8 276.3 L382.1 275.6 L382.4 274.9 L382.7 274.2 L383.0 273.6 L383.3 272.9 L383.6 272.2 L383.9 271.5 L384.2 270.8 L384.5 270.1 L384.8 269.4 L385.1 268.7 L385.4 268.1 L385.7 267.4 L386.0 266.7 L386.3 266.0 L386.6 265.3 L386.9 264.6 L387.2 263.9 L387.5 263.3 L387.8 262.6 L388.1 261.9 L388.4 261.2 L388.7 260.5 L389.0 259.8 L389.3 259.1 L389.6 258.5 L389.9 257.8 L390.2 257.1 L390.5 256.4 L390.8 255.7 L391.1 255.0 L391.4 254.4 L391.8 253.7 L392.1 253.0 L392.4 252.3 L392.7 251.6 L393.0 251.0 L393.3 250.3 L393.6 249.6 L393.9 248.9 L394.2 248.2 L394.5 247.5 L394.8 246.9 L395.2 246.2 L395.5 245.5 L395.8 244.8 L396.1 244.2 L396.4 243.5 L396.7 242.8 L397.0 242.1 L397.4 241.4 L397.7 240.8 L398.0 240.1 L398.3 239.4 L398.6 238.7 L398.9 238.0 L399.3 237.4 L399.6 236.7 L399.9 236.0 L400.2 235.3 L400.5 234.7 L400.9 234.0 L401.2 233.3 L401.5 232.6 L401.8 232.0 L402.1 231.3 L402.5 230.6 L402.8 230.0 L403.1 229.3 L403.5 228.6 L403.8 227.9 L404.1 227.3 L404.4 226.6 L404.8 225.9 L405.1 225.3 L405.4 224.6 L405.8 223.9 L406.1 223.3 L406.4 222.6 L406.8 221.9 L407.1 221.3 L407.5 220.6 L407.8 219.9 L408.1 219.3 L408.5 218.6 L408.8 217.9 L409.2 217.3 L409.5 216.6 L409.9 215.9 L410.2 215.3 L410.6 214.6 L410.9 214.0 L411.3 213.3 L411.6 212.6 L412.0 212.0 L412.3 211.3 L412.7 210.7 L413.0 210.0 L413.4 209.4 L413.7 208.7 L414.1 208.1 L414.5 207.4 L414.8 206.8 L415.2 206.1 L415.6 205.4 L415.9 204.8 L416.3 204.1 L416.7 203.5 L417.0 202.8 L417.4 202.2 L417.8 201.5 L418.1 200.9 L418.5 200.2 L418.9 199.6 L419.3 199.0 L419.6 198.3 L420.0 197.7 L420.4 197.0 L420.8 196.4 L421.2 195.7 L421.5 195.1 L421.9 194.4 L422.3 193.8 L422.7 193.1 L423.1 192.5 L423.4 191.9 L423.8 191.2 L424.2 190.6 L424.6 189.9 L425.0 189.3 L425.4 188.6 L425.7 188.0 L426.1 187.4 L426.5 186.7 L426.9 186.1 L427.3 185.4 L427.7 184.8 L428.1 184.2 L428.5 183.5 L428.9 182.9 L429.2 182.2 L429.6 181.6 L430.0 180.9 L430.4 180.3 L430.8 179.7 L431.2 179.0 L431.6 178.4 L432.0 177.8 L432.4 177.1 L432.8 176.5 L433.2 175.8 L433.6 175.2 L433.9 174.6 L434.3 173.9 L434.7 173.3 L435.1 172.6 L435.5 172.0 L435.9 171.4 L436.3 170.7 L436.7 170.1 L437.1 169.5 L437.5 168.8 L437.9 168.2 L438.3 167.6 L438.7 166.9 L439.1 166.3 L439.5 165.7 L439.9 165.0 L440.3 164.4 L440.7 163.8 L441.1 163.1 L441.5 162.5 L442.0 161.9 L442.4 161.2 L442.8 160.6 L443.2 160.0 L443.6 159.4 L444.0 158.7 L444.4 158.1 L444.8 157.5 L445.2 156.9 L445.6 156.2 L446.1 155.6 L446.5 155.0 L446.9 154.4 L447.3 153.7 L447.7 153.1 L448.1 152.5 L448.6 151.9 L449.0 151.3 L449.4 150.6 L449.8 150.0 L450.3 149.4 L450.7 148.8 L451.1 148.2 L451.5 147.6 L452.0 146.9 L452.4 146.3 L452.8 145.7 L453.3 145.1 L453.7 144.5 L454.1 143.9 L454.6 143.3 L455.0 142.7 L455.4 142.1 L455.9 141.5 L456.3 140.9 L456.7 140.2 L457.2 139.6 L457.6 139.0 L458.1 138.4 L458.5 137.8 L459.0 137.2 L459.4 136.6 L459.9 136.0 L460.3 135.4 L460.8 134.8 L461.2 134.2 L461.7 133.7 L462.1 133.1 L462.6 132.5 L463.0 131.9 L463.5 131.3 L463.9 130.7 L464.4 130.1 L464.9 129.5 L465.3 128.9 L465.8 128.3 L466.3 127.7 L466.7 127.2 L467.2 126.6 L467.7 126.0 L468.1 125.4 L468.6 124.8 L469.1 124.2 L469.5 123.7 L470.0 123.1 L470.5 122.5 L470.9 121.9 L471.4 121.3 L471.9 120.8 L472.4 120.2 L472.9 119.6 L473.3 119.0 L473.8 118.5 L474.3 117.9 L474.8 117.3 L475.3 116.7 L475.7 116.2 L476.2 115.6 L476.7 115.0 L477.2 114.4 L477.7 113.9 L478.2 113.3 L478.6 112.7 L479.1 112.2 L479.6 111.6 L480.1 111.0 L480.6 110.5 L481.1 109.9 L481.6 109.3 L482.1 108.8 L482.6 108.2 L483.1 107.6 L483.6 107.1 L484.1 106.5 L484.5 105.9 L485.0 105.4 L485.5 104.8 L486.0 104.2 L486.5 103.7 L487.0 103.1 L487.5 102.6 L488.0 102.0 L488.5 101.4 L489.0 100.9 L489.5 100.3 L490.0 99.8 L490.5 99.2 L491.0 98.6 L491.5 98.1 L492.0 97.5 L492.5 97.0 L493.0 96.4 L493.5 95.8 L494.0 95.3 L494.5 94.7 L495.1 94.2 L495.6 93.6 L496.1 93.1 L496.6 92.5 L497.1 91.9 L497.6 91.4 L498.1 90.8 L498.6 90.3 L499.1 89.7 L499.6 89.2 L500.1 88.6 L500.6 88.1 L501.1 87.5 L501.7 87.0 L502.2 86.4 L502.7 85.9 L503.2 85.3 L503.7 84.8 L504.2 84.2 L504.7 83.7 L505.2 83.1 L505.8 82.6 L506.3 82.0 L506.8 81.5 L507.3 80.9 L507.8 80.4 L508.3 79.8 L508.9 79.3 L509.4 78.7 L509.9 78.2 L510.4 77.7 L510.9 77.1 L511.5 76.6 L512.0 76.0 L512.5 75.5 L513.0 75.0" stroke="#cd5c5c" stroke-width="5.2"/>
<path d="M513.6 74.4 L514.1 73.9 L514.6 73.3 L515.1 72.8 L515.7 72.3 L516.2 71.7 L516.7 71.2 L517.2 70.7 L517.8 70.1 L518.3 69.6 L518.8 69.1 L519.4 68.5 L519.9 68.0 L520.4 67.5 L521.0 66.9 L521.5 66.4 L522.0 65.9 L522.6 65.4 L523.1 64.8 L523.6 64.3 L524.2 63.8 L524.7 63.3 L525.3 62.7 L525.8 62.2 L526.3 61.7 L526.9 61.2 L527.4 60.7 L528.0 60.2 L528.5 59.6 L529.1 59.1 L529.6 58.6 L530.2 58.1 L530.7 57.6 L531.2 57.1 L531.8 56.6 L532.3 56.1 L532.9 55.5 L533.5 55.0 L534.0 54.5 L534.6 54.0 L535.1 53.5 L535.7 53.0 L536.2 52.5 L536.8 52.0 L537.3 51.5 L537.9 51.0 L538.5 50.5 L539.0 50.0 L539.6 49.5 L540.1 49.0 L540.7 48.5 L541.3 48.1 L541.8 47.6 L542.4 47.1 L543.0 46.6 L543.5 46.1 L544.1 45.6 L544.7 45.1 L545.3 44.6 L545.8 44.2 L546.4 43.7 L547.0 43.2 L547.6 42.7 L548.1 42.3 L548.7 41.8 L549.3 41.3 L549.9 40.8 L550.4 40.4 L551.0 39.9 L551.6 39.4 L552.2 39.0 L552.8 38.5 L553.4 38.0 L554.0 37.6 L554.5 37.1 L555.1 36.6 L555.7 36.2 L556.3 35.7 L556.9 35.3 L557.5 34.8 L558.1 34.3 L558.7 33.9 L559.3 33.4 L559.9 33.0 L560.5 32.5 L561.1 32.1 L561.7 31.6 L562.3 31.2 L562.9 30.7 L563.5 30.3 L564.1 29.9 L564.7 29.4 L565.3 29.0 L565.9 28.5 L566.5 28.1 L567.1 27.7 L567.7 27.2 L568.3 26.8 L568.9 26.4 L569.5 25.9 L570.2 25.5 L570.8 25.1 L571.4 24.6 L572.0 24.2 L572.6 23.8 L573.2 23.4 L573.8 22.9 L574.5 22.5 L575.1 22.1 L575.7 21.7 L576.3 21.2 L576.9 20.8 L577.6 20.4 L578.2 20.0 L578.8 19.6 L579.4 19.1 L580.1 18.7 L580.7 18.3 L581.3 17.9 L581.9 17.5 L582.6 17.1 L583.2 16.7 L583.8 16.3 L584.4 15.8 L585.1 15.4 L585.7 15.0 L586.3 14.6 L587.0 14.2 L587.6 13.8 L588.2 13.4 L588.9 13.0 L589.5 12.6 L590.1 12.2 L590.8 11.8 L591.4 11.4 L592.1 11.0 L592.7 10.6 L593.3 10.2 L594.0 9.8 L594.6 9.4 L595.2 9.0 L595.9 8.6 L596.5 8.2 L597.2 7.9 L597.8 7.5 L598.5 7.1 L599.1 6.7 L599.7 6.3 L600.4 5.9 L601.0 5.5 L601.7 5.1 L602.3 4.7 L603.0 4.4 L603.6 4.0 L604.3 3.6 L604.9 3.2 L605.6 2.8 L606.2 2.4 L606.9 2.1 L607.5 1.7 L608.2 1.3 L608.8 0.9 L609.5 0.5 L610.1 0.2" stroke="#cd5c5c" stroke-width="2.0" stroke-dasharray="1.8 2.2"/>
<path d="M236.5 521.9 L237.2 521.2 L238.0 520.6 L238.8 520.0 L239.5 519.3 L240.2 518.7 L241.0 518.1 L241.8 517.4 L242.5 516.8 L243.2 516.2 L244.0 515.6 L244.8 514.9 L245.5 514.3 L246.2 513.7 L247.0 513.1 L247.8 512.5 L248.5 511.9 L249.2 511.3 L250.0 510.7 L250.8 510.1 L251.5 509.5 L252.2 508.9 L253.0 508.3 L253.8 507.7 L254.5 507.1 L255.2 506.6 L256.0 506.0 L256.8 505.4 L257.5 504.8 L258.2 504.3 L259.0 503.7 L259.8 503.1 L260.5 502.6 L261.2 502.0 L262.0 501.4 L262.8 500.9 L263.5 500.3 L264.2 499.8 L265.0 499.2 L265.8 498.7 L266.5 498.1 L267.2 497.6 L268.0 497.1 L268.8 496.5 L269.5 496.0 L270.2 495.5 L271.0 494.9 L271.8 494.4 L272.5 493.9 L273.2 493.4 L274.0 492.9 L274.8 492.4 L275.5 491.8 L276.2 491.3 L277.0 490.8 L277.8 490.3 L278.5 489.8 L279.2 489.3 L280.0 488.8 L280.8 488.4 L281.5 487.9 L282.2 487.4 L283.0 486.9 L283.8 486.4 L284.5 486.0 L285.2 485.5 L286.0 485.0 L286.8 484.6 L287.5 484.1 L288.2 483.6 L289.0 483.2 L289.8 482.7 L290.5 482.3 L291.2 481.8 L292.0 481.4 L292.8 480.9 L293.5 480.5 L294.2 480.1 L295.0 479.6 L295.8 479.2 L296.5 478.8 L297.2 478.4 L298.0 477.9 L298.8 477.5 L299.5 477.1 L300.2 476.7 L301.0 476.3 L301.8 475.9 L302.5 475.5 L303.2 475.1 L304.0 474.7 L304.8 474.3 L305.5 473.9 L306.2 473.5 L307.0 473.2 L307.8 472.8 L308.5 472.4 L309.2 472.0 L310.0 471.7 L310.8 471.3 L311.5 470.9 L312.2 470.6 L313.0 470.2 L313.8 469.9 L314.5 469.5 L315.2 469.2 L316.0 468.8 L316.8 468.5 L317.5 468.2 L318.2 467.8 L319.0 467.5 L319.8 467.2 L320.5 466.9 L321.2 466.5 L322.0 466.2 L322.8 465.9 L323.5 465.6 L324.2 465.3 L325.0 465.0 L325.8 464.7 L326.5 464.4 L327.2 464.1 L328.0 463.9 L328.8 463.6 L329.5 463.3 L330.2 463.0 L331.0 462.7 L331.8 462.5 L332.5 462.2 L333.2 462.0 L334.0 461.7 L334.8 461.4 L335.5 461.2 L336.2 461.0 L337.0 460.7 L337.8 460.5 L338.5 460.2 L339.2 460.0 L340.0 459.8 L340.8 459.6 L341.5 459.3 L342.2 459.1 L343.0 458.9 L343.8 458.7 L344.5 458.5 L345.2 458.3 L346.0 458.1 L346.8 457.9 L347.5 457.7 L348.2 457.5 L349.0 457.3 L349.8 457.2 L350.5 457.0 L351.2 456.8 L352.0 456.7 L352.8 456.5 L353.5 456.3 L354.2 456.2 L355.0 456.0 L355.8 455.9 L356.5 455.7 L357.2 455.6 L358.0 455.5 L358.8 455.3 L359.5 455.2 L360.2 455.1 L361.0 455.0 L361.8 454.8 L362.5 454.7 L363.2 454.6 L364.0 454.5 L364.8 454.4 L365.5 454.3 L366.2 454.2 L367.0 454.2 L367.8 454.1 L368.5 454.0 L369.2 453.9 L370.0 453.8 L370.8 453.8 L371.5 453.7 L372.2 453.7 L373.0 453.6 L373.8 453.6 L374.5 453.5 L375.2 453.5 L376.0 453.4 L376.8 453.4 L377.5 453.4 L378.2 453.3 L379.0 453.3 L379.8 453.3 L380.5 453.3 L381.2 453.3 L382.0 453.3 L382.8 453.3 L383.5 453.3 L384.2 453.3 L385.0 453.3 L385.8 453.3 L386.5 453.3 L387.2 453.4 L388.0 453.4 L388.8 453.4 L389.5 453.5 L390.2 453.5 L391.0 453.6 L391.8 453.6 L392.5 453.7 L393.2 453.7 L394.0 453.8 L394.8 453.8 L395.5 453.9 L396.2 454.0 L397.0 454.1 L397.8 454.1 L398.5 454.2 L399.2 454.3 L400.0 454.4 L400.8 454.5 L401.5 454.6 L402.2 454.7 L403.0 454.8 L403.8 454.9 L404.5 455.0 L405.2 455.1 L406.0 455.3 L406.8 455.4 L407.5 455.5 L408.2 455.7 L409.0 455.8 L409.8 455.9 L410.5 456.1 L411.2 456.2 L412.0 456.4 L412.8 456.5 L413.5 456.7 L414.2 456.8 L415.0 457.0 L415.8 457.2 L416.5 457.3 L417.2 457.5 L418.0 457.7 L418.8 457.9 L419.5 458.1 L420.2 458.3 L421.0 458.4 L421.8 458.6 L422.5 458.8 L423.2 459.0 L424.0 459.2 L424.8 459.5 L425.5 459.7 L426.2 459.9 L427.0 460.1 L427.8 460.3 L428.5 460.6 L429.2 460.8 L430.0 461.0 L430.8 461.3 L431.5 461.5 L432.2 461.7 L433.0 462.0 L433.8 462.2 L434.5 462.5 L435.2 462.7 L436.0 463.0 L436.8 463.2 L437.5 463.5 L438.2 463.8 L439.0 464.0 L439.8 464.3 L440.5 464.6 L441.2 464.9 L442.0 465.2 L442.8 465.4 L443.5 465.7 L444.2 466.0 L445.0 466.3 L445.8 466.6 L446.5 466.9 L447.2 467.2 L448.0 467.5 L448.8 467.9 L449.5 468.2 L450.2 468.5 L451.0 468.8 L451.8 469.1 L452.5 469.5 L453.2 469.8 L454.0 470.2 L454.8 470.5 L455.5 470.8 L456.2 471.2 L457.0 471.5 L457.8 471.9 L458.5 472.3 L459.2 472.6 L460.0 473.0 L460.8 473.4 L461.5 473.7 L462.2 474.1 L463.0 474.5 L463.8 474.9 L464.5 475.3 L465.2 475.7 L466.0 476.1 L466.8 476.5 L467.5 476.9 L468.2 477.3 L469.0 477.7 L469.8 478.2 L470.5 478.6 L471.2 479.0 L472.0 479.4 L472.8 479.9 L473.5 480.3 L474.2 480.8 L475.0 481.2 L475.8 481.7 L476.5 482.1 L477.2 482.6 L478.0 483.1 L478.8 483.6 L479.5 484.0 L480.2 484.5 L481.0 485.0 L481.8 485.5 L482.5 486.0 L483.2 486.5 L484.0 487.0 L484.8 487.5 L485.5 488.0 L486.2 488.6 L487.0 489.1 L487.8 489.6 L488.5 490.1 L489.2 490.7 L490.0 491.2 L490.8 491.8 L491.5 492.3 L492.2 492.9 L493.0 493.5 L493.8 494.0 L494.5 494.6 L495.2 495.2 L496.0 495.8 L496.8 496.4 L497.5 497.0 L498.2 497.6 L499.0 498.2 L499.8 498.8 L500.5 499.4 L501.2 500.0 L502.0 500.7 L502.8 501.3 L503.5 501.9 L504.2 502.6 L505.0 503.2 L505.8 503.9 L506.5 504.5 L507.2 505.2 L508.0 505.9 L508.8 506.6 L509.5 507.3 L510.2 507.9 L511.0 508.6 L511.8 509.3 L512.5 510.1 L513.2 510.8 L514.0 511.5 L514.8 512.2 L515.5 512.9 L516.2 513.7 L517.0 514.4 L517.8 515.2 L518.5 515.9 L519.0 516.4" stroke="#228b22" stroke-width="5.2"/>
<path d="M219.0 361.6 L219.8 361.3 L220.5 360.9 L221.2 360.6 L222.0 360.3 L222.8 359.9 L223.5 359.6 L224.2 359.2 L225.0 358.9 L225.8 358.5 L226.5 358.2 L227.2 357.8 L228.0 357.5 L228.8 357.1 L229.5 356.8 L230.2 356.4 L231.0 356.0 L231.8 355.7 L232.5 355.3 L233.2 354.9 L234.0 354.5 L234.8 354.2 L235.5 353.8 L236.2 353.4 L237.0 353.0 L237.8 352.6 L238.5 352.2 L239.2 351.8 L240.0 351.4 L240.8 351.1 L241.5 350.7 L242.2 350.3 L243.0 349.9 L243.8 349.5 L244.5 349.1 L245.2 348.6 L246.0 348.2 L246.8 347.8 L247.5 347.4 L248.2 347.0 L249.0 346.6 L249.8 346.2 L250.5 345.8 L251.2 345.3 L252.0 344.9 L252.8 344.5 L253.5 344.1 L254.2 343.7 L255.0 343.2 L255.8 342.8 L256.5 342.4 L257.2 341.9 L258.0 341.5 L258.8 341.1 L259.5 340.6 L260.2 340.2 L261.0 339.8 L261.8 339.3 L262.5 338.9 L263.2 338.5 L264.0 338.0 L264.8 337.6 L265.5 337.1 L266.2 336.7 L267.0 336.2 L267.8 335.8 L268.5 335.3 L269.2 334.9 L270.0 334.5 L270.8 334.0 L271.5 333.6 L272.2 333.1 L273.0 332.7 L273.8 332.2 L274.5 331.8 L275.2 331.3 L276.0 330.8 L276.8 330.4 L277.5 329.9 L278.2 329.5 L279.0 329.0 L279.8 328.6 L280.5 328.1 L281.2 327.7 L282.0 327.2 L282.8 326.7 L283.5 326.3 L284.2 325.8 L285.0 325.4 L285.8 324.9 L286.5 324.5 L287.2 324.0 L288.0 323.5 L288.8 323.1 L289.5 322.6 L290.2 322.2 L291.0 321.7 L291.8 321.3 L292.5 320.8 L293.2 320.3 L294.0 319.9 L294.8 319.4 L295.5 319.0 L296.2 318.5 L297.0 318.1 L297.8 317.6 L298.5 317.1 L299.2 316.7 L300.0 316.2 L300.8 315.8 L301.5 315.3 L302.2 314.9 L303.0 314.4 L303.8 314.0 L304.5 313.5 L305.2 313.1 L306.0 312.6 L306.8 312.2 L307.5 311.7 L308.2 311.3 L309.0 310.8 L309.8 310.4 L310.5 309.9 L311.2 309.5 L312.0 309.0 L312.8 308.6 L313.5 308.1 L314.2 307.7 L315.0 307.3 L315.8 306.8 L316.5 306.4 L317.2 305.9 L318.0 305.5 L318.8 305.1 L319.5 304.6 L320.2 304.2 L321.0 303.8 L321.8 303.3 L322.5 302.9 L323.2 302.5 L324.0 302.1 L324.8 301.6 L325.5 301.2 L326.2 300.8 L327.0 300.4 L327.8 299.9 L328.5 299.5 L329.2 299.1 L330.0 298.7 L330.8 298.3 L331.5 297.9 L332.2 297.5 L333.0 297.0 L333.8 296.6 L334.5 296.2 L335.2 295.8 L336.0 295.4 L336.8 295.0 L337.5 294.6 L338.2 294.2 L339.0 293.8 L339.8 293.5 L340.5 293.1 L341.2 292.7 L342.0 292.3 L342.8 291.9 L343.5 291.5 L344.2 291.1 L345.0 290.8 L345.8 290.4 L346.5 290.0 L347.2 289.7 L348.0 289.3 L348.8 288.9 L349.5 288.6 L350.2 288.2 L351.0 287.8 L351.8 287.5 L352.5 287.1 L353.2 286.8 L354.0 286.4 L354.8 286.1 L355.5 285.7 L356.2 285.4 L357.0 285.1 L357.8 284.7 L358.5 284.4 L359.2 284.1 L360.0 283.7 L360.8 283.4 L361.5 283.1 L362.2 282.7 L363.0 282.4 L363.8 282.1 L364.5 281.8 L365.2 281.5 L366.0 281.2 L366.8 280.9 L367.5 280.6 L368.2 280.3 L369.0 280.0 L369.8 279.7 L370.5 279.4 L371.2 279.1 L372.0 278.8 L372.8 278.5 L373.5 278.2 L374.2 277.9 L375.0 277.7 L375.8 277.4 L376.5 277.1 L377.2 276.8 L378.0 276.6 L378.8 276.3 L379.5 276.1 L380.2 275.8 L381.0 275.5 L381.8 275.3 L382.5 275.0 L383.2 274.8 L384.0 274.5 L384.8 274.3 L385.5 274.0 L386.2 273.8 L387.0 273.6 L387.8 273.3 L388.5 273.1 L389.2 272.9 L390.0 272.7 L390.8 272.4 L391.5 272.2 L392.2 272.0 L393.0 271.8 L393.8 271.6 L394.5 271.4 L395.2 271.1 L396.0 270.9 L396.8 270.7 L397.5 270.5 L398.2 270.3 L399.0 270.2 L399.8 270.0 L400.5 269.8 L401.2 269.6 L402.0 269.4 L402.8 269.2 L403.5 269.1 L404.2 268.9 L405.0 268.7 L405.8 268.5 L406.5 268.4 L407.2 268.2 L408.0 268.1 L408.8 267.9 L409.5 267.7 L410.2 267.6 L411.0 267.5 L411.8 267.3 L412.5 267.2 L413.2 267.0 L414.0 266.9 L414.8 266.8 L415.5 266.6 L416.2 266.5 L417.0 266.4 L417.8 266.2 L418.5 266.1 L419.2 266.0 L420.0 265.9 L420.8 265.8 L421.5 265.7 L422.2 265.6 L423.0 265.5 L423.8 265.4 L424.5 265.3 L425.2 265.2 L426.0 265.1 L426.8 265.0 L427.5 264.9 L428.2 264.8 L429.0 264.8 L429.8 264.7 L430.5 264.6 L431.2 264.6 L432.0 264.5 L432.8 264.4 L433.5 264.4 L434.2 264.3 L435.0 264.3 L435.8 264.2 L436.5 264.2 L437.2 264.1 L438.0 264.1 L438.8 264.0 L439.5 264.0 L440.2 264.0 L441.0 263.9 L441.8 263.9 L442.5 263.9 L443.2 263.9 L444.0 263.8 L444.8 263.8 L445.5 263.8 L446.2 263.8 L447.0 263.8 L447.8 263.8 L448.5 263.8 L449.2 263.8 L450.0 263.8 L450.8 263.8 L451.5 263.8 L452.2 263.9 L453.0 263.9 L453.8 263.9 L454.5 263.9 L455.2 264.0 L456.0 264.0 L456.8 264.0 L457.5 264.1 L458.2 264.1 L459.0 264.2 L459.8 264.2 L460.5 264.3 L461.2 264.3 L462.0 264.4 L462.8 264.4 L463.5 264.5 L464.2 264.6 L465.0 264.7 L465.8 264.8 L466.5 264.8 L467.2 264.9 L468.0 265.0 L468.8 265.1 L469.5 265.2 L470.2 265.3 L471.0 265.5 L471.8 265.6 L472.5 265.7 L473.2 265.8 L474.0 266.0 L474.8 266.1 L475.5 266.3 L476.2 266.4 L477.0 266.6 L477.8 266.7 L478.5 266.9 L479.2 267.1 L480.0 267.3 L480.8 267.5 L481.5 267.7 L482.2 267.9 L483.0 268.1 L483.8 268.3 L484.5 268.5 L485.2 268.7 L486.0 269.0 L486.8 269.2 L487.5 269.5 L488.2 269.7 L489.0 270.0 L489.8 270.2 L490.5 270.5 L491.2 270.8 L492.0 271.1 L492.8 271.4 L493.5 271.7 L494.2 272.0 L495.0 272.3 L495.8 272.7 L496.5 273.0 L497.2 273.4 L498.0 273.7 L498.8 274.1 L499.5 274.5 L500.2 274.8 L501.0 275.2 L501.8 275.6 L502.5 276.0 L503.2 276.4 L504.0 276.9 L504.8 277.3 L505.5 277.8 L506.2 278.2 L507.0 278.7 L507.8 279.1 L508.5 279.6 L509.2 280.1 L510.0 280.6 L510.8 281.1 L511.5 281.6 L512.2 282.2 L513.0 282.7 L513.8 283.3 L514.5 283.8 L515.2 284.4 L516.0 285.0 L516.8 285.6 L517.5 286.2 L518.2 286.8 L519.0 287.4 L519.8 288.0 L520.5 288.7 L521.2 289.3 L522.0 290.0 L522.8 290.7 L523.5 291.4 L524.2 292.1 L525.0 292.8 L525.8 293.5 L526.5 294.2 L527.2 295.0 L528.0 295.7 L528.8 296.5 L529.5 297.3 L530.2 298.1 L531.0 298.9 L531.8 299.7 L532.5 300.5 L533.2 301.4 L534.0 302.2 L534.8 303.1 L535.5 304.0 L536.2 304.8 L537.0 305.7 L537.8 306.6 L538.5 307.6 L539.2 308.5 L540.0 309.4 L540.8 310.4 L541.5 311.3 L542.2 312.3 L543.0 313.3 L543.8 314.3 L544.5 315.3 L545.2 316.3 L546.0 317.3 L546.8 318.3 L547.5 319.4 L548.2 320.4 L549.0 321.5 L549.8 322.6 L550.5 323.7 L551.2 324.8 L552.0 325.9 L552.8 327.0 L553.5 328.1 L554.2 329.3 L555.0 330.4 L555.8 331.6 L556.5 332.8 L557.2 333.9 L558.0 335.1 L558.8 336.3 L559.5 337.5 L560.2 338.8 L561.0 340.0 L561.8 341.2 L562.5 342.5 L563.2 343.8 L564.0 345.0 L564.8 346.3 L565.5 347.6 L566.2 348.9 L567.0 350.2 L567.8 351.5 L568.5 352.9 L569.2 354.2 L570.0 355.6 L570.8 356.9 L571.5 358.3 L572.2 359.7 L573.0 361.1 L573.8 362.5 L574.5 363.9 L575.2 365.3 L576.0 366.7 L576.8 368.2 L577.5 369.6 L578.2 371.1 L579.0 372.5 L579.8 374.0 L580.5 375.5 L581.2 377.0 L582.0 378.5 L582.8 380.0 L583.5 381.5 L584.2 383.1 L585.0 384.6 L585.8 386.2 L586.5 387.7 L587.2 389.3 L588.0 390.9 L588.8 392.5 L589.5 394.1 L590.2 395.7 L591.0 397.3 L591.8 398.9 L592.5 400.5 L593.2 402.2 L594.0 403.8 L594.8 405.5 L595.5 407.2 L596.2 408.8 L597.0 410.5 L597.8 412.2 L598.5 413.9 L599.2 415.7 L600.0 417.4 L600.8 419.1 L601.5 420.9 L602.2 422.6 L603.0 424.4 L603.8 426.1 L604.5 427.9 L605.2 429.7 L606.0 431.5 L606.8 433.3 L607.5 435.1 L608.2 436.9 L609.0 438.8 L609.8 440.6 L610.5 442.5 L611.2 444.3 L612.0 446.2 L612.8 448.1 L613.5 450.0 L614.2 451.9 L615.0 453.8 L615.8 455.7 L616.5 457.6 L617.2 459.5 L618.0 461.5 L618.8 463.4 L619.5 465.4 L620.2 467.4 L621.0 469.3 L621.8 471.3 L622.5 473.3 L623.2 475.3 L624.0 477.3 L624.8 479.4 L625.5 481.4 L626.2 483.4 L627.0 485.5 L627.8 487.5 L628.5 489.6 L629.2 491.7 L630.0 493.8 L630.8 495.9 L631.5 498.0 L632.2 500.1 L633.0 502.2 L633.8 504.3 L634.5 506.5 L635.2 508.6 L636.0 510.8 L636.8 512.9 L637.5 515.1 L638.2 517.3 L639.0 519.5 L639.8 521.7 L640.0 522.4" stroke="#00ff00" stroke-width="2.0"/>
<path d="M349.5 288.6 L350.2 288.2 L351.0 287.8 L351.8 287.5 L352.5 287.1 L353.2 286.8 L354.0 286.4 L354.8 286.1 L355.5 285.7 L356.2 285.4 L357.0 285.1 L357.8 284.7 L358.5 284.4 L359.2 284.1 L360.0 283.7 L360.8 283.4 L361.5 283.1 L362.2 282.7 L363.0 282.4 L363.8 282.1 L364.5 281.8 L365.2 281.5 L366.0 281.2 L366.8 280.9 L367.5 280.6 L368.2 280.3 L369.0 280.0 L369.8 279.7 L370.5 279.4 L371.2 279.1 L372.0 278.8 L372.8 278.5 L373.5 278.2 L374.2 277.9 L375.0 277.7 L375.8 277.4 L376.5 277.1 L377.2 276.8 L378.0 276.6 L378.8 276.3 L379.5 276.1 L380.2 275.8 L381.0 275.5 L381.8 275.3 L382.5 275.0 L383.2 274.8 L384.0 274.5 L384.8 274.3 L385.5 274.0 L386.2 273.8 L387.0 273.6 L387.8 273.3 L388.5 273.1 L389.2 272.9 L390.0 272.7 L390.8 272.4 L391.5 272.2 L392.2 272.0 L393.0 271.8 L393.8 271.6 L394.5 271.4 L395.2 271.1 L396.0 270.9 L396.8 270.7 L397.5 270.5 L398.2 270.3 L399.0 270.2 L399.8 270.0 L400.5 269.8 L401.2 269.6 L402.0 269.4 L402.8 269.2 L403.5 269.1 L404.2 268.9 L405.0 268.7 L405.8 268.5 L406.5 268.4 L407.2 268.2 L408.0 268.1 L408.8 267.9 L409.5 267.7 L410.2 267.6 L411.0 267.5 L411.8 267.3 L412.5 267.2 L413.2 267.0 L414.0 266.9 L414.8 266.8 L415.5 266.6 L416.2 266.5 L417.0 266.4 L417.8 266.2 L418.5 266.1 L419.2 266.0 L420.0 265.9 L420.8 265.8 L421.5 265.7 L422.2 265.6 L423.0 265.5 L423.8 265.4 L424.5 265.3 L425.2 265.2 L426.0 265.1 L426.8 265.0 L427.5 264.9 L428.2 264.8 L429.0 264.8 L429.8 264.7 L430.5 264.6 L431.2 264.6 L432.0 264.5 L432.8 264.4 L433.5 264.4 L434.2 264.3 L435.0 264.3 L435.8 264.2 L436.5 264.2 L437.2 264.1 L438.0 264.1 L438.8 264.0 L439.5 264.0 L440.2 264.0 L441.0 263.9 L441.8 263.9 L442.5 263.9 L443.2 263.9 L444.0 263.8 L444.8 263.8 L445.5 263.8 L446.2 263.8 L447.0 263.8 L447.8 263.8 L448.5 263.8 L449.2 263.8 L450.0 263.8 L450.8 263.8 L451.5 263.8 L452.2 263.9 L453.0 263.9 L453.8 263.9 L454.5 263.9 L455.2 264.0 L456.0 264.0 L456.8 264.0 L457.5 264.1 L458.2 264.1 L459.0 264.2 L459.8 264.2 L460.5 264.3 L461.2 264.3 L462.0 264.4 L462.8 264.4 L463.5 264.5 L464.2 264.6 L465.0 264.7 L465.8 264.8 L466.5 264.8 L467.2 264.9 L468.0 265.0 L468.8 265.1 L469.5 265.2 L470.2 265.3 L471.0 265.5 L471.8 265.6 L472.5 265.7 L473.2 265.8 L474.0 266.0 L474.8 266.1 L475.5 266.3 L476.2 266.4 L477.0 266.6 L477.8 266.7 L478.5 266.9 L479.2 267.1 L480.0 267.3 L480.8 267.5 L481.5 267.7 L482.2 267.9 L483.0 268.1 L483.8 268.3 L484.5 268.5 L485.2 268.7 L486.0 269.0 L486.8 269.2 L487.5 269.5 L488.2 269.7 L489.0 270.0 L489.8 270.2 L490.5 270.5 L491.2 270.8 L492.0 271.1 L492.8 271.4 L493.5 271.7 L494.2 272.0 L495.0 272.3 L495.8 272.7 L496.5 273.0 L497.2 273.4 L498.0 273.7 L498.8 274.1 L499.5 274.5 L500.2 274.8 L501.0 275.2 L501.8 275.6 L502.5 276.0 L503.2 276.4 L504.0 276.9 L504.8 277.3 L505.5 277.8 L506.2 278.2 L507.0 278.7 L507.8 279.1 L508.5 279.6 L509.2 280.1 L510.0 280.6 L510.8 281.1 L511.5 281.6 L512.2 282.2 L513.0 282.7 L513.8 283.3 L514.5 283.8 L515.2 284.4 L516.0 285.0 L516.8 285.6 L517.5 286.2 L518.2 286.8 L519.0 287.4 L519.8 288.0 L520.5 288.7 L521.2 289.3 L522.0 290.0 L522.8 290.7 L523.5 291.4 L524.2 292.1" stroke="#00ff00" stroke-width="5.2"/>
<path d="M219.0 359.5 L219.8 359.2 L220.5 358.9 L221.2 358.6 L222.0 358.2 L222.8 357.9 L223.5 357.6 L224.2 357.2 L225.0 356.9 L225.8 356.6 L226.5 356.2 L227.2 355.9 L228.0 355.5 L228.8 355.1 L229.5 354.8 L230.2 354.4 L231.0 354.0 L231.8 353.6 L232.5 353.3 L233.2 352.9 L234.0 352.5 L234.8 352.1 L235.5 351.7 L236.2 351.3 L237.0 350.9 L237.8 350.5 L238.5 350.0 L239.2 349.6 L240.0 349.2 L240.8 348.8 L241.5 348.3 L242.2 347.9 L243.0 347.5 L243.8 347.0 L244.5 346.6 L245.2 346.1 L246.0 345.7 L246.8 345.2 L247.5 344.8 L248.2 344.3 L249.0 343.8 L249.8 343.4 L250.5 342.9 L251.2 342.4 L252.0 341.9 L252.8 341.5 L253.5 341.0 L254.2 340.5 L255.0 340.0 L255.8 339.5 L256.5 339.0 L257.2 338.5 L258.0 338.0 L258.8 337.5 L259.5 337.0 L260.2 336.5 L261.0 336.0 L261.8 335.5 L262.5 335.0 L263.2 334.4 L264.0 333.9 L264.8 333.4 L265.5 332.9 L266.2 332.4 L267.0 331.8 L267.8 331.3 L268.5 330.8 L269.2 330.2 L270.0 329.7 L270.8 329.1 L271.5 328.6 L272.2 328.1 L273.0 327.5 L273.8 327.0 L274.5 326.4 L275.2 325.9 L276.0 325.3 L276.8 324.8 L277.5 324.2 L278.2 323.7 L279.0 323.1 L279.8 322.5 L280.5 322.0 L281.2 321.4 L282.0 320.8 L282.8 320.3 L283.5 319.7 L284.2 319.2 L285.0 318.6 L285.8 318.0 L286.5 317.4 L287.2 316.9 L288.0 316.3 L288.8 315.7 L289.5 315.2 L290.2 314.6 L291.0 314.0 L291.8 313.4 L292.5 312.9 L293.2 312.3 L294.0 311.7 L294.8 311.1 L295.5 310.5 L296.2 310.0 L297.0 309.4 L297.8 308.8 L298.5 308.2 L299.2 307.6 L300.0 307.1 L300.8 306.5 L301.5 305.9 L302.2 305.3 L303.0 304.7 L303.8 304.1 L304.5 303.6 L305.2 303.0 L306.0 302.4 L306.8 301.8 L307.5 301.2 L308.2 300.7 L309.0 300.1 L309.8 299.5 L310.5 298.9 L311.2 298.3 L312.0 297.8 L312.8 297.2 L313.5 296.6 L314.2 296.0 L315.0 295.4 L315.8 294.9 L316.5 294.3 L317.2 293.7 L318.0 293.1 L318.8 292.6 L319.5 292.0 L320.2 291.4 L321.0 290.9 L321.8 290.3 L322.5 289.7 L323.2 289.2 L324.0 288.6 L324.8 288.0 L325.5 287.5 L326.2 286.9 L327.0 286.3 L327.8 285.8 L328.5 285.2 L329.2 284.7 L330.0 284.1 L330.8 283.6 L331.5 283.0 L332.2 282.4 L333.0 281.9 L333.8 281.4 L334.5 280.8 L335.2 280.3 L336.0 279.7 L336.8 279.2 L337.5 278.6 L338.2 278.1 L339.0 277.6 L339.8 277.0 L340.5 276.5 L341.2 276.0 L342.0 275.5 L342.8 274.9 L343.5 274.4 L344.2 273.9 L345.0 273.4 L345.8 272.9 L346.5 272.4 L347.2 271.8 L348.0 271.3 L348.8 270.8 L349.5 270.3 L350.2 269.8 L351.0 269.3 L351.8 268.9 L352.5 268.4 L353.2 267.9 L354.0 267.4 L354.8 266.9 L355.5 266.4 L356.2 266.0 L357.0 265.5 L357.8 265.0 L358.5 264.5 L359.2 264.1 L360.0 263.6 L360.8 263.2 L361.5 262.7 L362.2 262.3 L363.0 261.8 L363.8 261.4 L364.5 260.9 L365.2 260.5 L366.0 260.0 L366.8 259.6 L367.5 259.2 L368.2 258.7 L369.0 258.3 L369.8 257.9 L370.5 257.5 L371.2 257.1 L372.0 256.6 L372.8 256.2 L373.5 255.8 L374.2 255.4 L375.0 255.0 L375.8 254.6 L376.5 254.2 L377.2 253.8 L378.0 253.5 L378.8 253.1 L379.5 252.7 L380.2 252.3 L381.0 252.0 L381.8 251.6 L382.5 251.2 L383.2 250.9 L384.0 250.5 L384.8 250.1 L385.5 249.8 L386.2 249.4 L387.0 249.1 L387.8 248.8 L388.5 248.4 L389.2 248.1 L390.0 247.8 L390.8 247.4 L391.5 247.1 L392.2 246.8 L393.0 246.5 L393.8 246.2 L394.5 245.8 L395.2 245.5 L396.0 245.2 L396.8 244.9 L397.5 244.6 L398.2 244.4 L399.0 244.1 L399.8 243.8 L400.5 243.5 L401.2 243.2 L402.0 243.0 L402.8 242.7 L403.5 242.4 L404.2 242.2 L405.0 241.9 L405.8 241.7 L406.5 241.4 L407.2 241.2 L408.0 240.9 L408.8 240.7 L409.5 240.5 L410.2 240.3 L411.0 240.0 L411.8 239.8 L412.5 239.6 L413.2 239.4 L414.0 239.2 L414.8 239.0 L415.5 238.8 L416.2 238.6 L417.0 238.4 L417.8 238.2 L418.5 238.0 L419.2 237.9 L420.0 237.7 L420.8 237.5 L421.5 237.4 L422.2 237.2 L423.0 237.0 L423.8 236.9 L424.5 236.7 L425.2 236.6 L426.0 236.5 L426.8 236.3 L427.5 236.2 L428.2 236.1 L429.0 236.0 L429.8 235.8 L430.5 235.7 L431.2 235.6 L432.0 235.5 L432.8 235.4 L433.5 235.3 L434.2 235.3 L435.0 235.2 L435.8 235.1 L436.5 235.0 L437.2 235.0 L438.0 234.9 L438.8 234.8 L439.5 234.8 L440.2 234.7 L441.0 234.7 L441.8 234.6 L442.5 234.6 L443.2 234.6 L444.0 234.5 L444.8 234.5 L445.5 234.5 L446.2 234.5 L447.0 234.5 L447.8 234.5 L448.5 234.5 L449.2 234.5 L450.0 234.5 L450.8 234.5 L451.5 234.6 L452.2 234.6 L453.0 234.6 L453.8 234.7 L454.5 234.7 L455.2 234.8 L456.0 234.8 L456.8 234.9 L457.5 234.9 L458.2 235.0 L459.0 235.1 L459.8 235.2 L460.5 235.2 L461.2 235.3 L462.0 235.4 L462.8 235.5 L463.5 235.6 L464.2 235.7 L465.0 235.9 L465.8 236.0 L466.5 236.1 L467.2 236.2 L468.0 236.4 L468.8 236.5 L469.5 236.7 L470.2 236.8 L471.0 237.0 L471.8 237.1 L472.5 237.3 L473.2 237.5 L474.0 237.7 L474.8 237.9 L475.5 238.0 L476.2 238.2 L477.0 238.4 L477.8 238.7 L478.5 238.9 L479.2 239.1 L480.0 239.3 L480.8 239.5 L481.5 239.8 L482.2 240.0 L483.0 240.3 L483.8 240.5 L484.5 240.8 L485.2 241.0 L486.0 241.3 L486.8 241.6 L487.5 241.9 L488.2 242.2 L489.0 242.5 L489.8 242.8 L490.5 243.1 L491.2 243.4 L492.0 243.7 L492.8 244.0 L493.5 244.3 L494.2 244.7 L495.0 245.0 L495.8 245.4 L496.5 245.7 L497.2 246.1 L498.0 246.4 L498.8 246.8 L499.5 247.2 L500.2 247.6 L501.0 248.0 L501.8 248.3 L502.5 248.7 L503.2 249.2 L504.0 249.6 L504.8 250.0 L505.5 250.4 L506.2 250.8 L507.0 251.3 L507.8 251.7 L508.5 252.2 L509.2 252.6 L510.0 253.1 L510.8 253.6 L511.5 254.0 L512.2 254.5 L513.0 255.0 L513.8 255.5 L514.5 256.0 L515.2 256.5 L516.0 257.0 L516.8 257.5 L517.5 258.0 L518.2 258.6 L519.0 259.1 L519.8 259.7 L520.5 260.2 L521.2 260.8 L522.0 261.3 L522.8 261.9 L523.5 262.5 L524.2 263.1 L525.0 263.6 L525.8 264.2 L526.5 264.8 L527.2 265.5 L528.0 266.1 L528.8 266.7 L529.5 267.3 L530.2 268.0 L531.0 268.6 L531.8 269.2 L532.5 269.9 L533.2 270.6 L534.0 271.2 L534.8 271.9 L535.5 272.6 L536.2 273.3 L537.0 274.0 L537.8 274.7 L538.5 275.4 L539.2 276.1 L540.0 276.8 L540.8 277.6 L541.5 278.3 L542.2 279.0 L543.0 279.8 L543.8 280.5 L544.5 281.3 L545.2 282.1 L546.0 282.9 L546.8 283.6 L547.5 284.4 L548.2 285.2 L549.0 286.0 L549.8 286.9 L550.5 287.7 L551.2 288.5 L552.0 289.3 L552.8 290.2 L553.5 291.0 L554.2 291.9 L555.0 292.8 L555.8 293.6 L556.5 294.5 L557.2 295.4 L558.0 296.3 L558.8 297.2 L559.5 298.1 L560.2 299.0 L561.0 299.9 L561.8 300.9 L562.5 301.8 L563.2 302.7 L564.0 303.7 L564.8 304.6 L565.5 305.6 L566.2 306.6 L567.0 307.6 L567.8 308.5 L568.5 309.5 L569.2 310.5 L570.0 311.6 L570.8 312.6 L571.5 313.6 L572.2 314.6 L573.0 315.7 L573.8 316.7 L574.5 317.8 L575.2 318.8 L576.0 319.9 L576.8 321.0 L577.5 322.1 L578.2 323.2 L579.0 324.3 L579.8 325.4 L580.5 326.5 L581.2 327.7 L582.0 328.8 L582.8 329.9 L583.5 331.1 L584.2 332.3 L585.0 333.4 L585.8 334.6 L586.5 335.8 L587.2 337.0 L588.0 338.2 L588.8 339.4 L589.5 340.6 L590.2 341.8 L591.0 343.1 L591.8 344.3 L592.5 345.6 L593.2 346.8 L594.0 348.1 L594.8 349.4 L595.5 350.7 L596.2 352.0 L597.0 353.3 L597.8 354.6 L598.5 355.9 L599.2 357.3 L600.0 358.6 L600.8 360.0 L601.5 361.3 L602.2 362.7 L603.0 364.1 L603.8 365.4 L604.5 366.8 L605.2 368.2 L606.0 369.7 L606.8 371.1 L607.5 372.5 L608.2 373.9 L609.0 375.4 L609.8 376.9 L610.5 378.3 L611.2 379.8 L612.0 381.3 L612.8 382.8 L613.5 384.3 L614.2 385.8 L615.0 387.3 L615.8 388.9 L616.5 390.4 L617.2 392.0 L618.0 393.5 L618.8 395.1 L619.5 396.7 L620.2 398.3 L621.0 399.9 L621.8 401.5 L622.5 403.1 L623.2 404.7 L624.0 406.4 L624.8 408.0 L625.5 409.7 L626.2 411.3 L627.0 413.0 L627.8 414.7 L628.5 416.4 L629.2 418.1 L630.0 419.8 L630.8 421.6 L631.5 423.3 L632.2 425.1 L633.0 426.8 L633.8 428.6 L634.5 430.4 L635.2 432.2 L636.0 434.0 L636.8 435.8 L637.5 437.6 L638.2 439.4 L639.0 441.3 L639.8 443.1 L640.5 445.0 L641.2 446.8 L642.0 448.7 L642.8 450.6 L643.5 452.5 L644.2 454.4 L644.9 456.1" stroke="#000000" stroke-width="5.2"/>
<path d="M263.9 505.5 L264.3 504.8 L264.6 504.2 L265.0 503.5 L265.3 502.9 L265.7 502.2 L266.0 501.6 L266.4 500.9 L266.8 500.3 L267.1 499.6 L267.5 498.9 L267.8 498.3 L268.2 497.6 L268.5 497.0 L268.9 496.3 L269.2 495.7 L269.6 495.0 L269.9 494.4 L270.3 493.7 L270.6 493.0 L271.0 492.4 L271.3 491.7 L271.7 491.1 L272.0 490.4 L272.4 489.8 L272.7 489.1 L273.1 488.4 L273.4 487.8 L273.7 487.1 L274.1 486.5 L274.4 485.8 L274.8 485.1 L275.1 484.5 L275.5 483.8 L275.8 483.2 L276.2 482.5 L276.5 481.8 L276.9 481.2 L277.2 480.5 L277.5 479.8 L277.9 479.2 L278.2 478.5 L278.6 477.9 L278.9 477.2 L279.3 476.5 L279.6 475.9 L279.9 475.2 L280.3 474.5 L280.6 473.9 L281.0 473.2 L281.3 472.6 L281.6 471.9 L282.0 471.2 L282.3 470.6 L282.7 469.9 L283.0 469.2 L283.3 468.6 L283.7 467.9 L284.0 467.2 L284.4 466.6 L284.7 465.9 L285.0 465.2 L285.4 464.6 L285.7 463.9 L286.1 463.2 L286.4 462.6 L286.7 461.9 L287.1 461.2 L287.4 460.6 L287.7 459.9 L288.1 459.2 L288.4 458.6 L288.8 457.9 L289.1 457.2 L289.4 456.6 L289.8 455.9 L290.1 455.2 L290.4 454.6 L290.8 453.9 L291.1 453.2 L291.4 452.6 L291.8 451.9 L292.1 451.2 L292.4 450.5 L292.8 449.9 L293.1 449.2 L293.4 448.5 L293.8 447.9 L294.1 447.2 L294.5 446.5 L294.8 445.9 L295.1 445.2 L295.5 444.5 L295.8 443.8 L296.1 443.2 L296.5 442.5 L296.8 441.8 L297.1 441.2 L297.4 440.5 L297.8 439.8 L298.1 439.2 L298.4 438.5 L298.8 437.8 L299.1 437.1 L299.4 436.5 L299.8 435.8 L300.1 435.1 L300.4 434.4 L300.8 433.8 L301.1 433.1 L301.4 432.4 L301.8 431.8 L302.1 431.1 L302.4 430.4 L302.8 429.7 L303.1 429.1 L303.4 428.4 L303.8 427.7 L304.1 427.1 L304.4 426.4 L304.7 425.7 L305.1 425.0 L305.4 424.4 L305.7 423.7 L306.1 423.0 L306.4 422.3 L306.7 421.7 L307.1 421.0 L307.4 420.3 L307.7 419.7 L308.1 419.0 L308.4 418.3 L308.7 417.6 L309.1 417.0 L309.4 416.3 L309.7 415.6 L310.0 414.9 L310.4 414.3 L310.7 413.6 L311.0 412.9 L311.4 412.2 L311.7 411.6 L312.0 410.9 L312.4 410.2 L312.7 409.5 L313.0 408.9 L313.4 408.2 L313.7 407.5 L314.0 406.9 L314.3 406.2 L314.7 405.5 L315.0 404.8 L315.3 404.2 L315.7 403.5 L316.0 402.8 L316.3 402.1 L316.7 401.5 L317.0 400.8 L317.3 400.1 L317.7 399.4 L318.0 398.8 L318.3 398.1 L318.6 397.4 L319.0 396.8 L319.3 396.1 L319.6 395.4 L320.0 394.7 L320.3 394.1 L320.6 393.4 L321.0 392.7 L321.3 392.0 L321.6 391.4 L322.0 390.7 L322.3 390.0 L322.6 389.3 L323.0 388.7 L323.3 388.0 L323.6 387.3 L324.0 386.7 L324.3 386.0 L324.6 385.3 L325.0 384.6 L325.3 384.0 L325.6 383.3 L326.0 382.6 L326.3 381.9 L326.6 381.3 L327.0 380.6 L327.3 379.9 L327.6 379.3 L328.0 378.6 L328.3 377.9 L328.6 377.2 L329.0 376.6 L329.3 375.9 L329.6 375.2 L330.0 374.5 L330.3 373.9 L330.7 373.2 L331.0 372.5 L331.3 371.9 L331.7 371.2 L332.0 370.5 L332.3 369.9 L332.7 369.2 L333.0 368.5 L333.3 367.8 L333.7 367.2 L334.0 366.5 L334.4 365.8 L334.7 365.2 L335.0 364.5 L335.4 363.8 L335.7 363.1 L336.1 362.5 L336.4 361.8 L336.7 361.1 L337.1 360.5 L337.4 359.8 L337.7 359.1 L338.1 358.5 L338.4 357.8 L338.8 357.1 L339.1 356.5 L339.5 355.8 L339.8 355.1 L340.1 354.4 L340.5 353.8 L340.8 353.1 L341.2 352.4 L341.5 351.8 L341.8 351.1 L342.2 350.4 L342.5 349.8 L342.9 349.1 L343.2 348.4 L343.6 347.8 L343.9 347.1 L344.3 346.4 L344.6 345.8 L344.9 345.1 L345.3 344.4 L345.6 343.8 L346.0 343.1 L346.3 342.4 L346.7 341.8 L347.0 341.1 L347.4 340.4 L347.7 339.8 L348.1 339.1 L348.4 338.5 L348.8 337.8 L349.1 337.1 L349.5 336.5 L349.8 335.8 L350.2 335.1 L350.5 334.5 L350.9 333.8 L351.2 333.1 L351.6 332.5 L351.9 331.8 L352.3 331.2 L352.6 330.5 L353.0 329.8 L353.3 329.2 L353.7 328.5 L354.0 327.9 L354.4 327.2 L354.7 326.5 L355.1 325.9 L355.4 325.2 L355.8 324.6 L356.1 323.9 L356.5 323.2 L356.9 322.6 L357.2 321.9 L357.6 321.3 L357.9 320.6 L358.3 319.9 L358.6 319.3 L359.0 318.6 L359.4 318.0 L359.7 317.3 L360.1 316.7 L360.4 316.0 L360.8 315.3 L361.2 314.7 L361.5 314.0 L361.9 313.4 L362.2 312.7 L362.6 312.1 L363.0 311.4 L363.3 310.7 L363.7 310.1 L364.1 309.4 L364.4 308.8 L364.8 308.1 L365.2 307.5 L365.5 306.8 L365.9 306.2 L366.3 305.5 L366.6 304.9 L367.0 304.2 L367.4 303.6 L367.7 302.9 L368.1 302.3 L368.5 301.6 L368.8 301.0 L369.2 300.3 L369.6 299.7 L370.0 299.0 L370.3 298.4 L370.7 297.7 L371.1 297.1 L371.4 296.4 L371.8 295.8 L372.2 295.1 L372.6 294.5 L372.9 293.8 L373.3 293.2 L373.7 292.5 L374.1 291.9 L374.4 291.2 L374.8 290.6 L375.2 290.0 L375.6 289.3 L376.0 288.7 L376.3 288.0 L376.7 287.4 L377.1 286.7 L377.5 286.1 L377.9 285.4 L378.2 284.8 L378.6 284.2 L379.0 283.5 L379.4 282.9 L379.8 282.2 L380.2 281.6 L380.6 281.0 L380.9 280.3 L381.3 279.7 L381.7 279.0 L382.1 278.4 L382.5 277.8 L382.9 277.1 L383.3 276.5 L383.7 275.8 L384.0 275.2 L384.4 274.6 L384.8 273.9 L385.2 273.3 L385.6 272.7 L386.0 272.0 L386.4 271.4 L386.8 270.8 L387.2 270.1 L387.6 269.5 L388.0 268.9 L388.4 268.2 L388.8 267.6 L389.2 267.0 L389.6 266.3 L390.0 265.7 L390.4 265.1 L390.8 264.4 L391.2 263.8 L391.6 263.2 L392.0 262.5 L392.4 261.9 L392.8 261.3 L393.2 260.7 L393.6 260.0 L394.0 259.4 L394.4 258.8 L394.8 258.2 L395.2 257.5 L395.6 256.9 L396.0 256.3 L396.5 255.7 L396.9 255.0 L397.3 254.4 L397.7 253.8 L398.1 253.2 L398.5 252.5 L398.9 251.9 L399.3 251.3 L399.8 250.7 L400.2 250.0 L400.6 249.4 L401.0 248.8 L401.4 248.2 L401.8 247.6 L402.3 247.0 L402.7 246.3 L403.1 245.7 L403.5 245.1 L403.9 244.5 L404.4 243.9 L404.8 243.3 L405.2 242.6 L405.6 242.0 L406.1 241.4 L406.5 240.8 L406.9 240.2 L407.3 239.6 L407.8 239.0 L408.2 238.3 L408.6 237.7 L409.1 237.1 L409.5 236.5 L409.9 235.9 L410.4 235.3 L410.8 234.7 L411.2 234.1 L411.7 233.5 L412.1 232.9 L412.5 232.3 L413.0 231.6 L413.4 231.0 L413.8 230.4 L414.3 229.8 L414.7 229.2 L415.2 228.6 L415.6 228.0 L416.0 227.4 L416.5 226.8 L416.9 226.2 L417.4 225.6 L417.8 225.0 L418.3 224.4 L418.7 223.8 L419.2 223.2 L419.6 222.6 L420.1 222.0 L420.5 221.4 L421.0 220.8 L421.4 220.2 L421.9 219.6 L422.3 219.0 L422.8 218.4 L423.2 217.8 L423.7 217.2 L424.1 216.7 L424.6 216.1 L425.1 215.5 L425.5 214.9 L426.0 214.3 L426.4 213.7 L426.9 213.1 L427.4 212.5 L427.8 211.9 L428.3 211.3 L428.8 210.8 L429.2 210.2 L429.7 209.6 L430.2 209.0 L430.6 208.4 L431.1 207.8 L431.6 207.2 L432.0 206.7 L432.5 206.1 L433.0 205.5 L433.5 204.9 L433.9 204.3 L434.4 203.8 L434.9 203.2 L435.4 202.6 L435.8 202.0 L436.3 201.4 L436.8 200.9 L437.3 200.3 L437.8 199.7 L438.3 199.1 L438.7 198.6 L439.2 198.0 L439.7 197.4 L440.2 196.8 L440.7 196.3 L441.2 195.7 L441.7 195.1 L442.2 194.5 L442.6 194.0 L443.1 193.4 L443.6 192.8 L444.1 192.3 L444.6 191.7 L445.1 191.1 L445.6 190.6 L446.1 190.0 L446.6 189.5 L447.1 188.9 L447.6 188.3 L448.1 187.8 L448.6 187.2 L449.1 186.7 L449.7 186.1 L450.2 185.6 L450.7 185.0 L451.2 184.5 L451.7 183.9 L452.2 183.4 L452.7 182.8 L453.2 182.3 L453.8 181.7 L454.3 181.2 L454.8 180.6 L455.3 180.1 L455.8 179.6 L456.4 179.0 L456.9 178.5 L457.4 178.0 L458.0 177.4 L458.5 176.9 L459.0 176.4 L459.6 175.8 L460.1 175.3 L460.6 174.8 L461.2 174.3 L461.7 173.7 L462.2 173.2 L462.8 172.7 L463.3 172.2 L463.9 171.7 L464.4 171.2 L465.0 170.7 L465.5 170.1 L466.1 169.6 L466.6 169.1 L467.2 168.6 L467.8 168.1 L468.3 167.6 L468.9 167.1 L469.4 166.7 L470.0 166.2 L470.6 165.7 L471.1 165.2 L471.7 164.7 L472.3 164.2 L472.9 163.7 L473.4 163.3 L474.0 162.8 L474.6 162.3 L475.2 161.8 L475.8 161.4 L476.4 160.9 L476.9 160.4 L477.5 160.0 L478.1 159.5 L478.7 159.1 L479.3 158.6 L479.9 158.2 L480.5 157.7 L481.1 157.3 L481.7 156.8 L482.3 156.4 L482.9 155.9 L483.5 155.5 L484.2 155.1 L484.8 154.7 L485.4 154.2 L486.0 153.8 L486.6 153.4 L487.2 153.0 L487.9 152.5 L488.5 152.1 L489.1 151.7 L489.8 151.3 L490.4 150.9 L491.0 150.5 L491.7 150.1 L492.3 149.7 L493.0 149.3 L493.6 148.9 L494.3 148.6 L494.9 148.2 L495.6 147.8 L496.2 147.4 L496.9 147.0 L497.5 146.7 L498.2 146.3 L498.9 145.9 L499.5 145.6 L500.2 145.2 L500.9 144.9 L501.5 144.5 L502.2 144.2 L502.9 143.8 L503.6 143.5 L504.3 143.2 L505.0 142.8 L505.6 142.5 L506.3 142.2 L507.0 141.9 L507.7 141.6 L508.4 141.3 L509.1 141.0 L509.8 140.7 L510.5 140.4 L511.2 140.2 L511.9 139.9 L512.6 139.6 L513.4 139.4 L514.1 139.2 L514.8 138.9 L515.5 138.7 L516.2 138.5 L516.9 138.3 L517.7 138.1 L518.4 137.9 L519.1 137.7 L519.8 137.6 L520.5 137.4 L521.3 137.3 L522.0 137.1 L522.7 137.0 L523.5 136.9 L524.2 136.8 L524.9 136.7 L525.7 136.6 L526.4 136.6 L527.1 136.5 L527.9 136.5 L528.6 136.5 L529.3 136.4 L530.1 136.4 L530.8 136.5 L531.6 136.5 L532.3 136.5 L533.1 136.6 L533.8 136.6 L534.5 136.7 L535.3 136.8 L536.0 136.9 L536.8 137.0 L537.5 137.1 L538.2 137.3 L539.0 137.4 L539.7 137.6 L540.4 137.7 L541.2 137.9 L541.9 138.1 L542.6 138.3 L543.4 138.5 L544.1 138.7 L544.8 138.9 L545.5 139.1 L546.2 139.4 L547.0 139.6 L547.7 139.9 L548.4 140.2 L549.1 140.4 L549.8 140.7 L550.5 141.0 L551.2 141.3 L551.9 141.6 L552.6 141.9 L553.3 142.2 L554.0 142.5 L554.6 142.9 L555.3 143.2 L556.0 143.6 L556.6 143.9 L557.3 144.3 L558.0 144.6 L558.6 145.0 L559.3 145.4 L559.9 145.7 L560.5 146.1 L561.2 146.5 L561.8 146.9 L562.4 147.3 L563.1 147.7 L563.7 148.1 L564.3 148.6 L564.9 149.0 L565.5 149.4 L566.1 149.8 L566.7 150.3 L567.3 150.7 L567.9 151.2 L568.5 151.6 L569.1 152.1 L569.7 152.5 L570.3 153.0 L570.8 153.5 L571.4 154.0 L572.0 154.5 L572.6 154.9 L573.1 155.4 L573.7 155.9 L574.2 156.4 L574.8 156.9 L575.3 157.4 L575.9 158.0 L576.4 158.5 L577.0 159.0 L577.5 159.5 L578.0 160.1 L578.5 160.6 L579.1 161.1 L579.6 161.7 L580.1 162.2 L580.6 162.8 L581.1 163.3 L581.7 163.9 L582.2 164.4 L582.7 165.0 L583.2 165.6 L583.7 166.1 L584.2 166.7 L584.7 167.3 L585.2 167.8 L585.6 168.4 L586.1 169.0 L586.6 169.6 L587.1 170.2 L587.6 170.8 L588.0 171.4 L588.5 172.0 L589.0 172.6 L589.5 173.2 L589.9 173.8 L590.4 174.4 L590.8 175.0 L591.3 175.6 L591.8 176.2 L592.2 176.8 L592.7 177.5 L593.1 178.1 L593.6 178.7 L594.0 179.3 L594.4 179.9 L594.9 180.6 L595.3 181.2 L595.8 181.8 L596.2 182.5 L596.6 183.1 L597.1 183.7 L597.5 184.4 L597.9 185.0 L598.3 185.6 L598.8 186.3 L599.2 186.9 L599.6 187.6 L600.0 188.2 L600.4 188.9 L600.8 189.5 L601.3 190.1 L601.7 190.8 L602.1 191.4 L602.5 192.1 L602.9 192.7 L603.3 193.4 L603.7 194.0 L604.1 194.7 L604.5 195.3 L604.9 196.0 L605.3 196.6 L605.7 197.3 L606.1 197.9 L606.5 198.6 L606.9 199.2 L607.3 199.9 L607.7 200.5 L608.0 201.2 L608.4 201.8 L608.8 202.5 L609.2 203.1 L609.6 203.8 L610.0 204.4 L610.4 205.1 L610.7 205.7 L611.1 206.4 L611.5 207.0 L611.9 207.6 L612.3 208.3 L612.6 208.9 L613.0 209.6 L613.4 210.2 L613.8 210.8 L614.1 211.5 L614.5 212.1 L614.9 212.7 L615.3 213.4 L615.6 214.0 L616.0 214.6 L616.4 215.3 L616.8 215.9 L617.1 216.5 L617.5 217.2 L617.9 217.8 L618.2 218.4 L618.6 219.0 L619.0 219.7 L619.3 220.3 L619.7 220.9 L620.0 221.6 L620.4 222.2 L620.8 222.8 L621.1 223.4 L621.5 224.1 L621.8 224.7 L622.2 225.3 L622.6 225.9 L622.9 226.6 L623.3 227.2 L623.6 227.8 L624.0 228.4 L624.3 229.1 L624.7 229.7 L625.0 230.3 L625.4 231.0 L625.7 231.6 L626.1 232.2 L626.4 232.9 L626.8 233.5 L627.1 234.1 L627.5 234.8 L627.8 235.4 L628.2 236.0 L628.5 236.7 L628.9 237.3 L629.2 238.0 L629.5 238.6 L629.9 239.2 L630.2 239.9 L630.5 240.5 L630.9 241.2 L631.2 241.8 L631.6 242.5 L631.9 243.1 L632.2 243.8 L632.6 244.4 L632.9 245.1 L633.2 245.7 L633.5 246.4 L633.9 247.1 L634.2 247.7 L634.5 248.4 L634.8 249.1 L635.2 249.7 L635.5 250.4 L635.8 251.1 L636.1 251.8 L636.5 252.4 L636.8 253.1 L637.1 253.8 L637.4 254.5 L637.7 255.2 L638.0 255.9 L638.4 256.6 L638.7 257.3 L639.0 258.0 L639.3 258.7 L639.6 259.4 L639.9 260.1 L640.2 260.8 L640.5 261.5 L640.8 262.2 L641.1 262.9 L641.4 263.7 L641.7 264.4 L642.0 265.1 L642.3 265.8 L642.6 266.6 L642.9 267.3 L643.2 268.1 L643.5 268.8 L643.8 269.6 L644.1 270.3 L644.4 271.1 L644.7 271.8 L645.0 272.6" stroke="#696969" stroke-width="2.0" stroke-dasharray="1.8 2.2"/>
<path d="M415.6 228.0 L416.0 227.4 L416.5 226.8 L416.9 226.2 L417.4 225.6 L417.8 225.0 L418.3 224.4 L418.7 223.8 L419.2 223.2 L419.6 222.6 L420.1 222.0 L420.5 221.4 L421.0 220.8 L421.4 220.2 L421.9 219.6 L422.3 219.0 L422.8 218.4 L423.2 217.8 L423.7 217.2 L424.1 216.7 L424.6 216.1 L425.1 215.5 L425.5 214.9 L426.0 214.3 L426.4 213.7 L426.9 213.1 L427.4 212.5 L427.8 211.9 L428.3 211.3 L428.8 210.8 L429.2 210.2 L429.7 209.6 L430.2 209.0 L430.6 208.4 L431.1 207.8 L431.6 207.2 L432.0 206.7 L432.5 206.1 L433.0 205.5 L433.5 204.9 L433.9 204.3 L434.4 203.8 L434.9 203.2 L435.4 202.6 L435.8 202.0 L436.3 201.4 L436.8 200.9 L437.3 200.3 L437.8 199.7" stroke="#696969" stroke-width="5.2"/>
<path d="M613.0 209.6 L613.4 210.2 L613.8 210.8 L614.1 211.5 L614.5 212.1 L614.9 212.7 L615.3 213.4 L615.6 214.0 L616.0 214.6 L616.4 215.3 L616.8 215.9 L617.1 216.5 L617.5 217.2 L617.9 217.8 L618.2 218.4 L618.6 219.0 L619.0 219.7 L619.3 220.3 L619.7 220.9 L620.0 221.6 L620.4 222.2 L620.8 222.8 L621.1 223.4 L621.5 224.1 L621.8 224.7 L622.2 225.3 L622.6 225.9 L622.9 226.6 L623.3 227.2 L623.6 227.8" stroke="#696969" stroke-width="5.2"/>
<path d="M338.5 522.1 L338.8 521.4 L339.1 520.7 L339.3 520.0 L339.6 519.3 L339.9 518.6 L340.2 517.9 L340.4 517.2 L340.7 516.5 L341.0 515.8 L341.3 515.1 L341.6 514.4 L341.8 513.7 L342.1 513.0 L342.4 512.3 L342.7 511.6 L342.9 510.9 L343.2 510.2 L343.5 509.5 L343.8 508.8 L344.1 508.1 L344.3 507.4 L344.6 506.7 L344.9 506.0 L345.2 505.3 L345.4 504.6 L345.7 504.0 L346.0 503.3 L346.3 502.6 L346.6 501.9 L346.8 501.2 L347.1 500.5 L347.4 499.8 L347.7 499.1 L348.0 498.4 L348.2 497.7 L348.5 497.0 L348.8 496.3 L349.1 495.6 L349.4 494.9 L349.6 494.2 L349.9 493.5 L350.2 492.8 L350.5 492.1 L350.8 491.4 L351.0 490.7 L351.3 490.1 L351.6 489.4 L351.9 488.7 L352.2 488.0 L352.4 487.3 L352.7 486.6 L353.0 485.9 L353.3 485.2 L353.6 484.5 L353.9 483.8 L354.1 483.1 L354.4 482.4 L354.7 481.7 L355.0 481.0 L355.3 480.3 L355.5 479.6 L355.8 478.9 L356.1 478.3 L356.4 477.6 L356.7 476.9 L357.0 476.2 L357.2 475.5 L357.5 474.8 L357.8 474.1 L358.1 473.4 L358.4 472.7 L358.7 472.0 L359.0 471.3 L359.2 470.6 L359.5 469.9 L359.8 469.2 L360.1 468.6 L360.4 467.9 L360.7 467.2 L360.9 466.5 L361.2 465.8 L361.5 465.1 L361.8 464.4 L362.1 463.7 L362.4 463.0 L362.7 462.3 L362.9 461.6 L363.2 460.9 L363.5 460.3 L363.8 459.6 L364.1 458.9 L364.4 458.2 L364.7 457.5 L364.9 456.8 L365.2 456.1 L365.5 455.4 L365.8 454.7 L366.1 454.0 L366.4 453.3 L366.7 452.6 L367.0 452.0 L367.2 451.3 L367.5 450.6 L367.8 449.9 L368.1 449.2 L368.4 448.5 L368.7 447.8 L369.0 447.1 L369.3 446.4 L369.6 445.7 L369.8 445.0 L370.1 444.4 L370.4 443.7 L370.7 443.0 L371.0 442.3 L371.3 441.6 L371.6 440.9 L371.9 440.2 L372.2 439.5 L372.4 438.8 L372.7 438.1 L373.0 437.5 L373.3 436.8 L373.6 436.1 L373.9 435.4 L374.2 434.7 L374.5 434.0 L374.8 433.3 L375.1 432.6 L375.4 431.9 L375.7 431.3 L375.9 430.6 L376.2 429.9 L376.5 429.2 L376.8 428.5 L377.1 427.8 L377.4 427.1 L377.7 426.4 L378.0 425.7 L378.3 425.1 L378.6 424.4 L378.9 423.7 L379.2 423.0 L379.5 422.3 L379.8 421.6 L380.0 420.9 L380.3 420.2 L380.6 419.6 L380.9 418.9 L381.2 418.2 L381.5 417.5 L381.8 416.8 L382.1 416.1 L382.4 415.4 L382.7 414.7 L383.0 414.1 L383.3 413.4 L383.6 412.7 L383.9 412.0 L384.2 411.3 L384.5 410.6 L384.8 409.9 L385.1 409.2 L385.4 408.6 L385.7 407.9 L386.0 407.2 L386.3 406.5 L386.6 405.8 L386.8 405.1 L387.1 404.4 L387.4 403.8 L387.7 403.1 L388.0 402.4 L388.3 401.7 L388.6 401.0 L388.9 400.3 L389.2 399.6 L389.5 399.0 L389.8 398.3 L390.1 397.6 L390.4 396.9 L390.7 396.2 L391.0 395.5 L391.3 394.8 L391.6 394.2 L391.9 393.5 L392.2 392.8 L392.5 392.1 L392.8 391.4 L393.1 390.7 L393.4 390.0 L393.7 389.4 L394.0 388.7 L394.3 388.0 L394.6 387.3 L394.9 386.6 L395.2 385.9 L395.5 385.3 L395.8 384.6 L396.2 383.9 L396.5 383.2 L396.8 382.5 L397.1 381.8 L397.4 381.1 L397.7 380.5 L398.0 379.8 L398.3 379.1 L398.6 378.4 L398.9 377.7 L399.2 377.0 L399.5 376.4 L399.8 375.7 L400.1 375.0 L400.4 374.3 L400.7 373.6 L401.0 372.9 L401.3 372.3 L401.6 371.6 L401.9 370.9 L402.2 370.2 L402.5 369.5 L402.8 368.9 L403.2 368.2 L403.5 367.5 L403.8 366.8 L404.1 366.1 L404.4 365.4 L404.7 364.8 L405.0 364.1 L405.3 363.4 L405.6 362.7 L405.9 362.0 L406.2 361.3 L406.5 360.7 L406.8 360.0 L407.2 359.3 L407.5 358.6 L407.8 357.9 L408.1 357.3 L408.4 356.6 L408.7 355.9 L409.0 355.2 L409.3 354.5 L409.6 353.9 L409.9 353.2 L410.2 352.5 L410.6 351.8 L410.9 351.1 L411.2 350.4 L411.5 349.8 L411.8 349.1 L412.1 348.4 L412.4 347.7 L412.7 347.0 L413.1 346.4 L413.4 345.7 L413.7 345.0 L414.0 344.3 L414.3 343.6 L414.6 343.0 L414.9 342.3 L415.2 341.6 L415.6 340.9 L415.9 340.2 L416.2 339.6 L416.5 338.9 L416.8 338.2 L417.1 337.5 L417.4 336.9 L417.8 336.2 L418.1 335.5 L418.4 334.8 L418.7 334.1 L419.0 333.5 L419.3 332.8 L419.6 332.1 L420.0 331.4 L420.3 330.7 L420.6 330.1 L420.9 329.4 L421.2 328.7 L421.5 328.0 L421.9 327.4 L422.2 326.7 L422.5 326.0 L422.8 325.3 L423.1 324.6 L423.5 324.0 L423.8 323.3 L424.1 322.6 L424.4 321.9 L424.7 321.3 L425.0 320.6 L425.4 319.9 L425.7 319.2 L426.0 318.5 L426.3 317.9 L426.6 317.2 L427.0 316.5 L427.3 315.8 L427.6 315.2 L427.9 314.5 L428.3 313.8 L428.6 313.1 L428.9 312.5 L429.2 311.8 L429.5 311.1 L429.9 310.4 L430.2 309.7 L430.5 309.1 L430.8 308.4 L431.1 307.7 L431.5 307.0 L431.8 306.4 L432.1 305.7 L432.4 305.0 L432.8 304.3 L433.1 303.7 L433.4 303.0 L433.7 302.3 L434.1 301.6 L434.4 301.0 L434.7 300.3 L435.0 299.6 L435.4 298.9 L435.7 298.3 L436.0 297.6 L436.3 296.9 L436.7 296.2 L437.0 295.6 L437.3 294.9 L437.6 294.2 L438.0 293.5 L438.3 292.9 L438.6 292.2 L438.9 291.5 L439.3 290.9 L439.6 290.2 L439.9 289.5 L440.2 288.8 L440.6 288.2 L440.9 287.5 L441.2 286.8 L441.5 286.1 L441.9 285.5 L442.2 284.8 L442.5 284.1 L442.9 283.4 L443.2 282.8 L443.5 282.1 L443.8 281.4 L444.2 280.8 L444.5 280.1 L444.8 279.4 L445.2 278.7 L445.5 278.1 L445.8 277.4 L446.1 276.7 L446.5 276.1 L446.8 275.4 L447.1 274.7 L447.5 274.0 L447.8 273.4 L448.1 272.7 L448.5 272.0 L448.8 271.3 L449.1 270.7 L449.4 270.0 L449.8 269.3 L450.1 268.7 L450.4 268.0 L450.8 267.3 L451.1 266.7 L451.4 266.0 L451.8 265.3 L452.1 264.6 L452.4 264.0 L452.8 263.3 L453.1 262.6 L453.4 262.0 L453.7 261.3 L454.1 260.6 L454.4 260.0 L454.7 259.3 L455.1 258.6 L455.4 257.9 L455.7 257.3 L456.1 256.6 L456.4 255.9 L456.7 255.3 L457.1 254.6 L457.4 253.9 L457.7 253.3 L458.1 252.6 L458.4 251.9 L458.7 251.3 L459.1 250.6 L459.4 249.9 L459.7 249.3 L460.1 248.6 L460.4 247.9 L460.7 247.2 L461.1 246.6 L461.4 245.9 L461.7 245.2 L462.1 244.6 L462.4 243.9 L462.7 243.2 L463.1 242.6 L463.4 241.9 L463.8 241.2 L464.1 240.6 L464.4 239.9 L464.8 239.2 L465.1 238.6 L465.4 237.9 L465.8 237.3 L466.1 236.6 L466.5 235.9 L466.8 235.3 L467.1 234.6 L467.5 233.9 L467.8 233.3 L468.2 232.6 L468.5 231.9 L468.8 231.3 L469.2 230.6 L469.5 230.0 L469.9 229.3 L470.2 228.6 L470.6 228.0 L470.9 227.3 L471.3 226.7 L471.6 226.0 L472.0 225.3 L472.3 224.7 L472.7 224.0 L473.0 223.4 L473.4 222.7 L473.7 222.1 L474.1 221.4 L474.4 220.7 L474.8 220.1 L475.2 219.4 L475.5 218.8 L475.9 218.1 L476.2 217.5 L476.6 216.8 L477.0 216.2 L477.3 215.5 L477.7 214.9 L478.1 214.2 L478.4 213.6 L478.8 212.9 L479.2 212.3 L479.5 211.6 L479.9 211.0 L480.3 210.3 L480.6 209.7 L481.0 209.1 L481.4 208.4 L481.8 207.8 L482.2 207.1 L482.5 206.5 L482.9 205.8 L483.3 205.2 L483.7 204.6 L484.1 203.9 L484.5 203.3 L484.8 202.7 L485.2 202.0 L485.6 201.4 L486.0 200.7 L486.4 200.1 L486.8 199.5 L487.2 198.8 L487.6 198.2 L488.0 197.6 L488.4 197.0 L488.8 196.3 L489.2 195.7 L489.6 195.1 L490.0 194.4 L490.4 193.8 L490.9 193.2 L491.3 192.6 L491.7 191.9 L492.1 191.3 L492.5 190.7 L492.9 190.1 L493.4 189.5 L493.8 188.8 L494.2 188.2 L494.6 187.6 L495.1 187.0 L495.5 186.4 L495.9 185.8 L496.4 185.2 L496.8 184.5 L497.3 183.9 L497.7 183.3 L498.1 182.7 L498.6 182.1 L499.0 181.5 L499.5 180.9 L499.9 180.3 L500.4 179.7 L500.9 179.1 L501.3 178.5 L501.8 177.9 L502.2 177.3 L502.7 176.7 L503.2 176.1 L503.6 175.5 L504.1 174.9 L504.6 174.3 L505.1 173.7 L505.5 173.1 L506.0 172.5 L506.5 171.9 L507.0 171.4 L507.5 170.8 L508.0 170.2 L508.5 169.6 L509.0 169.0 L509.5 168.4 L510.0 167.8 L510.5 167.3 L511.0 166.7 L511.5 166.1 L512.0 165.5 L512.5 164.9 L513.0 164.4 L513.6 163.8" stroke="#c0c0c0" stroke-width="5.2"/>
<path d="M514.1 163.2 L514.6 162.7 L515.1 162.1 L515.7 161.5 L516.2 161.0 L516.7 160.4 L517.3 159.8 L517.8 159.3 L518.4 158.7 L518.9 158.2 L519.5 157.6 L520.0 157.1 L520.6 156.6 L521.1 156.0 L521.7 155.5 L522.3 155.0 L522.8 154.5 L523.4 154.0 L524.0 153.5 L524.6 153.0 L525.2 152.5 L525.8 152.0 L526.4 151.6 L527.0 151.1 L527.6 150.6 L528.2 150.2 L528.8 149.8 L529.4 149.3 L530.0 148.9 L530.6 148.5 L531.3 148.1 L531.9 147.7 L532.5 147.4 L533.2 147.0 L533.8 146.6 L534.5 146.3 L535.1 146.0 L535.8 145.7 L536.5 145.3 L537.1 145.1 L537.8 144.8 L538.5 144.5 L539.2 144.2 L539.8 144.0 L540.5 143.8 L541.2 143.5 L541.9 143.3 L542.6 143.1 L543.3 143.0 L544.0 142.8 L544.7 142.6 L545.5 142.5 L546.2 142.3 L546.9 142.2 L547.6 142.1 L548.3 142.0 L549.0 141.9 L549.8 141.8 L550.5 141.7 L551.2 141.7 L551.9 141.6 L552.7 141.6 L553.4 141.6 L554.1 141.6 L554.9 141.6 L555.6 141.6 L556.3 141.6 L557.1 141.6 L557.8 141.7 L558.5 141.7 L559.2 141.8 L560.0 141.9 L560.7 141.9 L561.4 142.0 L562.1 142.1 L562.9 142.2 L563.6 142.4 L564.3 142.5 L565.0 142.7 L565.7 142.8 L566.5 143.0 L567.2 143.2 L567.9 143.3 L568.6 143.5 L569.3 143.8 L570.0 144.0 L570.7 144.2 L571.4 144.4 L572.1 144.7 L572.8 144.9 L573.4 145.2 L574.1 145.5 L574.8 145.8 L575.5 146.1 L576.1 146.4 L576.8 146.7 L577.5 147.0 L578.1 147.4 L578.8 147.7 L579.4 148.1 L580.0 148.4 L580.7 148.8 L581.3 149.2 L581.9 149.5 L582.6 149.9 L583.2 150.3 L583.8 150.8 L584.4 151.2 L585.0 151.6 L585.6 152.0 L586.2 152.5 L586.8 152.9 L587.4 153.4 L588.0 153.8 L588.6 154.3 L589.2 154.8 L589.8 155.2 L590.4 155.7 L590.9 156.2 L591.5 156.7 L592.1 157.2 L592.6 157.7 L593.2 158.3 L593.8 158.8 L594.3 159.3 L594.9 159.8 L595.4 160.4 L596.0 160.9 L596.5 161.5 L597.1 162.0 L597.6 162.6 L598.1 163.1 L598.7 163.7 L599.2 164.3 L599.7 164.8 L600.2 165.4 L600.8 166.0 L601.3 166.6" stroke="#c0c0c0" stroke-width="2.0" stroke-dasharray="5.8 2.6 1.4 2.6"/>
<path d="M601.8 167.2 L602.3 167.7 L602.8 168.3 L603.3 168.9 L603.8 169.5 L604.3 170.1 L604.8 170.7 L605.3 171.3 L605.8 172.0 L606.3 172.6 L606.8 173.2 L607.3 173.8 L607.8 174.4 L608.3 175.0 L608.7 175.6 L609.2 176.3 L609.7 176.9 L610.2 177.5 L610.6 178.1 L611.1 178.8 L611.6 179.4 L612.1 180.0 L612.5 180.6 L613.0 181.3 L613.4 181.9 L613.9 182.5 L614.4 183.1 L614.8 183.8 L615.3 184.4 L615.7 185.0 L616.2 185.6 L616.6 186.2 L617.1 186.9 L617.5 187.5 L618.0 188.1 L618.4 188.7 L618.9 189.3 L619.3 189.9 L619.8 190.6 L620.2 191.2 L620.6 191.8 L621.1 192.4 L621.5 193.0 L621.9 193.6 L622.4 194.2 L622.8 194.8 L623.2 195.4 L623.7 196.0 L624.1 196.6 L624.5 197.2 L625.0 197.8 L625.4 198.3 L625.8 198.9 L626.2 199.5 L626.6 200.1 L627.1 200.7 L627.5 201.3 L627.9 201.9 L628.3 202.5 L628.7 203.1 L629.1 203.7 L629.5 204.3 L630.0 204.9 L630.4 205.5 L630.8 206.1 L631.2 206.7 L631.6 207.3 L632.0 207.8 L632.4 208.4 L632.8 209.1 L633.2 209.7 L633.6 210.3 L634.0 210.9 L634.3 211.5 L634.7 212.1 L635.1 212.7 L635.5 213.3 L635.9 213.9 L636.3 214.6 L636.7 215.2 L637.0 215.8 L637.4 216.4 L637.8 217.1 L638.2 217.7 L638.5 218.3 L638.9 219.0 L639.3 219.6 L639.6 220.3 L640.0 220.9 L640.4 221.6 L640.7 222.2 L641.1 222.9 L641.4 223.6 L641.8 224.2 L642.1 224.9 L642.5 225.6 L642.8 226.3 L643.2 227.0 L643.5 227.7 L643.9 228.4 L644.2 229.1 L644.6 229.8 L644.9 230.5 L645.2 231.2" stroke="#c0c0c0" stroke-width="5.2"/>
</g>
<line x1="235.2" y1="31.4" x2="251.8" y2="31.4" stroke="#dda0dd" stroke-width="1.9" stroke-dasharray="5.8 2.8 1.4 3"/>
<line x1="235.2" y1="53.5" x2="251.8" y2="53.5" stroke="#0000ff" stroke-width="1.9"/>
<line x1="235.2" y1="75.7" x2="251.8" y2="75.7" stroke="#ff0000" stroke-width="1.9"/>
<line x1="235.2" y1="97.8" x2="251.8" y2="97.8" stroke="#cd5c5c" stroke-width="1.9" stroke-dasharray="1.5 2.5"/>
<line x1="235.2" y1="120.0" x2="251.8" y2="120.0" stroke="#228b22" stroke-width="1.9" stroke-dasharray="6 5.4"/>
<line x1="235.2" y1="142.2" x2="251.8" y2="142.2" stroke="#00ff00" stroke-width="1.9"/>
<line x1="235.2" y1="164.3" x2="251.8" y2="164.3" stroke="#000000" stroke-width="1.9"/>
<line x1="235.2" y1="186.4" x2="251.8" y2="186.4" stroke="#696969" stroke-width="1.9" stroke-dasharray="1.5 2.5"/>
<line x1="235.2" y1="208.6" x2="251.8" y2="208.6" stroke="#c0c0c0" stroke-width="1.9" stroke-dasharray="5.8 2.8 1.4 3"/>
<g stroke="#000" stroke-width="1.8">
<line x1="218.8" y1="512.1" x2="218.8" y2="502.0"/>
<line x1="229.7" y1="512.1" x2="229.7" y2="507.1"/>
<line x1="240.7" y1="512.1" x2="240.7" y2="507.1"/>
<line x1="251.6" y1="512.1" x2="251.6" y2="507.1"/>
<line x1="262.5" y1="512.1" x2="262.5" y2="507.1"/>
<line x1="273.5" y1="512.1" x2="273.5" y2="507.1"/>
<line x1="284.4" y1="512.1" x2="284.4" y2="507.1"/>
<line x1="295.3" y1="512.1" x2="295.3" y2="507.1"/>
<line x1="306.3" y1="512.1" x2="306.3" y2="507.1"/>
<line x1="317.2" y1="512.1" x2="317.2" y2="507.1"/>
<line x1="328.1" y1="512.1" x2="328.1" y2="502.0"/>
<line x1="339.1" y1="512.1" x2="339.1" y2="507.1"/>
<line x1="350.0" y1="512.1" x2="350.0" y2="507.1"/>
<line x1="361.0" y1="512.1" x2="361.0" y2="507.1"/>
<line x1="371.9" y1="512.1" x2="371.9" y2="507.1"/>
<line x1="382.8" y1="512.1" x2="382.8" y2="507.1"/>
<line x1="393.8" y1="512.1" x2="393.8" y2="507.1"/>
<line x1="404.7" y1="512.1" x2="404.7" y2="507.1"/>
<line x1="415.6" y1="512.1" x2="415.6" y2="507.1"/>
<line x1="426.6" y1="512.1" x2="426.6" y2="507.1"/>
<line x1="437.5" y1="512.1" x2="437.5" y2="502.0"/>
<line x1="448.4" y1="512.1" x2="448.4" y2="507.1"/>
<line x1="459.4" y1="512.1" x2="459.4" y2="507.1"/>
<line x1="470.3" y1="512.1" x2="470.3" y2="507.1"/>
<line x1="481.2" y1="512.1" x2="481.2" y2="507.1"/>
<line x1="492.2" y1="512.1" x2="492.2" y2="507.1"/>
<line x1="503.1" y1="512.1" x2="503.1" y2="507.1"/>
<line x1="514.0" y1="512.1" x2="514.0" y2="507.1"/>
<line x1="525.0" y1="512.1" x2="525.0" y2="507.1"/>
<line x1="535.9" y1="512.1" x2="535.9" y2="507.1"/>
<line x1="546.9" y1="512.1" x2="546.9" y2="502.0"/>
<line x1="557.8" y1="512.1" x2="557.8" y2="507.1"/>
<line x1="568.7" y1="512.1" x2="568.7" y2="507.1"/>
<line x1="579.7" y1="512.1" x2="579.7" y2="507.1"/>
<line x1="590.6" y1="512.1" x2="590.6" y2="507.1"/>
<line x1="601.5" y1="512.1" x2="601.5" y2="507.1"/>
<line x1="612.5" y1="512.1" x2="612.5" y2="507.1"/>
<line x1="623.4" y1="512.1" x2="623.4" y2="507.1"/>
<line x1="634.3" y1="512.1" x2="634.3" y2="507.1"/>
<line x1="645.3" y1="512.1" x2="645.3" y2="507.1"/>
<line x1="656.2" y1="512.1" x2="656.2" y2="502.0"/>
<line x1="218.8" y1="512.1" x2="227.6" y2="512.1"/>
<line x1="656.2" y1="512.1" x2="647.4" y2="512.1"/>
<line x1="218.8" y1="502.1" x2="223.2" y2="502.1"/>
<line x1="656.2" y1="502.1" x2="651.8" y2="502.1"/>
<line x1="218.8" y1="492.0" x2="223.2" y2="492.0"/>
<line x1="656.2" y1="492.0" x2="651.8" y2="492.0"/>
<line x1="218.8" y1="482.0" x2="223.2" y2="482.0"/>
<line x1="656.2" y1="482.0" x2="651.8" y2="482.0"/>
<line x1="218.8" y1="471.9" x2="223.2" y2="471.9"/>
<line x1="656.2" y1="471.9" x2="651.8" y2="471.9"/>
<line x1="218.8" y1="461.8" x2="223.2" y2="461.8"/>
<line x1="656.2" y1="461.8" x2="651.8" y2="461.8"/>
<line x1="218.8" y1="451.8" x2="223.2" y2="451.8"/>
<line x1="656.2" y1="451.8" x2="651.8" y2="451.8"/>
<line x1="218.8" y1="441.7" x2="223.2" y2="441.7"/>
<line x1="656.2" y1="441.7" x2="651.8" y2="441.7"/>
<line x1="218.8" y1="431.7" x2="223.2" y2="431.7"/>
<line x1="656.2" y1="431.7" x2="651.8" y2="431.7"/>
<line x1="218.8" y1="421.6" x2="223.2" y2="421.6"/>
<line x1="656.2" y1="421.6" x2="651.8" y2="421.6"/>
<line x1="218.8" y1="411.5" x2="227.6" y2="411.5"/>
<line x1="656.2" y1="411.5" x2="647.4" y2="411.5"/>
<line x1="218.8" y1="401.5" x2="223.2" y2="401.5"/>
<line x1="656.2" y1="401.5" x2="651.8" y2="401.5"/>
<line x1="218.8" y1="391.4" x2="223.2" y2="391.4"/>
<line x1="656.2" y1="391.4" x2="651.8" y2="391.4"/>
<line x1="218.8" y1="381.4" x2="223.2" y2="381.4"/>
<line x1="656.2" y1="381.4" x2="651.8" y2="381.4"/>
<line x1="218.8" y1="371.3" x2="223.2" y2="371.3"/>
<line x1="656.2" y1="371.3" x2="651.8" y2="371.3"/>
<line x1="218.8" y1="361.2" x2="223.2" y2="361.2"/>
<line x1="656.2" y1="361.2" x2="651.8" y2="361.2"/>
<line x1="218.8" y1="351.2" x2="223.2" y2="351.2"/>
<line x1="656.2" y1="351.2" x2="651.8" y2="351.2"/>
<line x1="218.8" y1="341.1" x2="223.2" y2="341.1"/>
<line x1="656.2" y1="341.1" x2="651.8" y2="341.1"/>
<line x1="218.8" y1="331.1" x2="223.2" y2="331.1"/>
<line x1="656.2" y1="331.1" x2="651.8" y2="331.1"/>
<line x1="218.8" y1="321.0" x2="223.2" y2="321.0"/>
<line x1="656.2" y1="321.0" x2="651.8" y2="321.0"/>
<line x1="218.8" y1="310.9" x2="227.6" y2="310.9"/>
<line x1="656.2" y1="310.9" x2="647.4" y2="310.9"/>
<line x1="218.8" y1="300.9" x2="223.2" y2="300.9"/>
<line x1="656.2" y1="300.9" x2="651.8" y2="300.9"/>
<line x1="218.8" y1="290.8" x2="223.2" y2="290.8"/>
<line x1="656.2" y1="290.8" x2="651.8" y2="290.8"/>
<line x1="218.8" y1="280.7" x2="223.2" y2="280.7"/>
<line x1="656.2" y1="280.7" x2="651.8" y2="280.7"/>
<line x1="218.8" y1="270.7" x2="223.2" y2="270.7"/>
<line x1="656.2" y1="270.7" x2="651.8" y2="270.7"/>
<line x1="218.8" y1="260.6" x2="223.2" y2="260.6"/>
<line x1="656.2" y1="260.6" x2="651.8" y2="260.6"/>
<line x1="218.8" y1="250.6" x2="223.2" y2="250.6"/>
<line x1="656.2" y1="250.6" x2="651.8" y2="250.6"/>
<line x1="218.8" y1="240.5" x2="223.2" y2="240.5"/>
<line x1="656.2" y1="240.5" x2="651.8" y2="240.5"/>
<line x1="218.8" y1="230.4" x2="223.2" y2="230.4"/>
<line x1="656.2" y1="230.4" x2="651.8" y2="230.4"/>
<line x1="218.8" y1="220.4" x2="223.2" y2="220.4"/>
<line x1="656.2" y1="220.4" x2="651.8" y2="220.4"/>
<line x1="218.8" y1="210.3" x2="227.6" y2="210.3"/>
<line x1="656.2" y1="210.3" x2="647.4" y2="210.3"/>
<line x1="218.8" y1="200.3" x2="223.2" y2="200.3"/>
<line x1="656.2" y1="200.3" x2="651.8" y2="200.3"/>
<line x1="218.8" y1="190.2" x2="223.2" y2="190.2"/>
<line x1="656.2" y1="190.2" x2="651.8" y2="190.2"/>
<line x1="218.8" y1="180.1" x2="223.2" y2="180.1"/>
<line x1="656.2" y1="180.1" x2="651.8" y2="180.1"/>
<line x1="218.8" y1="170.1" x2="223.2" y2="170.1"/>
<line x1="656.2" y1="170.1" x2="651.8" y2="170.1"/>
<line x1="218.8" y1="160.0" x2="223.2" y2="160.0"/>
<line x1="656.2" y1="160.0" x2="651.8" y2="160.0"/>
<line x1="218.8" y1="150.0" x2="223.2" y2="150.0"/>
<line x1="656.2" y1="150.0" x2="651.8" y2="150.0"/>
<line x1="218.8" y1="139.9" x2="223.2" y2="139.9"/>
<line x1="656.2" y1="139.9" x2="651.8" y2="139.9"/>
<line x1="218.8" y1="129.8" x2="223.2" y2="129.8"/>
<line x1="656.2" y1="129.8" x2="651.8" y2="129.8"/>
<line x1="218.8" y1="119.8" x2="223.2" y2="119.8"/>
<line x1="656.2" y1="119.8" x2="651.8" y2="119.8"/>
<line x1="218.8" y1="109.7" x2="227.6" y2="109.7"/>
<line x1="656.2" y1="109.7" x2="647.4" y2="109.7"/>
<line x1="218.8" y1="99.6" x2="223.2" y2="99.6"/>
<line x1="656.2" y1="99.6" x2="651.8" y2="99.6"/>
<line x1="218.8" y1="89.6" x2="223.2" y2="89.6"/>
<line x1="656.2" y1="89.6" x2="651.8" y2="89.6"/>
<line x1="218.8" y1="79.5" x2="223.2" y2="79.5"/>
<line x1="656.2" y1="79.5" x2="651.8" y2="79.5"/>
<line x1="218.8" y1="69.5" x2="223.2" y2="69.5"/>
<line x1="656.2" y1="69.5" x2="651.8" y2="69.5"/>
<line x1="218.8" y1="59.4" x2="223.2" y2="59.4"/>
<line x1="656.2" y1="59.4" x2="651.8" y2="59.4"/>
<line x1="218.8" y1="49.3" x2="223.2" y2="49.3"/>
<line x1="656.2" y1="49.3" x2="651.8" y2="49.3"/>
<line x1="218.8" y1="39.3" x2="223.2" y2="39.3"/>
<line x1="656.2" y1="39.3" x2="651.8" y2="39.3"/>
<line x1="218.8" y1="29.2" x2="223.2" y2="29.2"/>
<line x1="656.2" y1="29.2" x2="651.8" y2="29.2"/>
<line x1="218.8" y1="19.2" x2="223.2" y2="19.2"/>
<line x1="656.2" y1="19.2" x2="651.8" y2="19.2"/>
<line x1="218.8" y1="9.1" x2="227.6" y2="9.1"/>
<line x1="656.2" y1="9.1" x2="647.4" y2="9.1"/>
<line x1="252.5" y1="9.1" x2="252.5" y2="14.1"/>
<line x1="233.2" y1="9.1" x2="233.2" y2="14.1"/>
<line x1="285.4" y1="9.1" x2="285.4" y2="19.2"/>
<line x1="361.8" y1="9.1" x2="361.8" y2="14.1"/>
<line x1="342.6" y1="9.1" x2="342.6" y2="14.1"/>
<line x1="328.9" y1="9.1" x2="328.9" y2="14.1"/>
<line x1="318.3" y1="9.1" x2="318.3" y2="14.1"/>
<line x1="309.7" y1="9.1" x2="309.7" y2="14.1"/>
<line x1="302.3" y1="9.1" x2="302.3" y2="14.1"/>
<line x1="296.0" y1="9.1" x2="296.0" y2="14.1"/>
<line x1="290.4" y1="9.1" x2="290.4" y2="14.1"/>
<line x1="394.8" y1="9.1" x2="394.8" y2="19.2"/>
<line x1="471.2" y1="9.1" x2="471.2" y2="14.1"/>
<line x1="451.9" y1="9.1" x2="451.9" y2="14.1"/>
<line x1="438.3" y1="9.1" x2="438.3" y2="14.1"/>
<line x1="427.7" y1="9.1" x2="427.7" y2="14.1"/>
<line x1="419.0" y1="9.1" x2="419.0" y2="14.1"/>
<line x1="411.7" y1="9.1" x2="411.7" y2="14.1"/>
<line x1="405.3" y1="9.1" x2="405.3" y2="14.1"/>
<line x1="399.8" y1="9.1" x2="399.8" y2="14.1"/>
<line x1="504.1" y1="9.1" x2="504.1" y2="19.2"/>
<line x1="580.5" y1="9.1" x2="580.5" y2="14.1"/>
<line x1="561.3" y1="9.1" x2="561.3" y2="14.1"/>
<line x1="547.6" y1="9.1" x2="547.6" y2="14.1"/>
<line x1="537.0" y1="9.1" x2="537.0" y2="14.1"/>
<line x1="528.4" y1="9.1" x2="528.4" y2="14.1"/>
<line x1="521.0" y1="9.1" x2="521.0" y2="14.1"/>
<line x1="514.7" y1="9.1" x2="514.7" y2="14.1"/>
<line x1="509.1" y1="9.1" x2="509.1" y2="14.1"/>
<line x1="613.5" y1="9.1" x2="613.5" y2="19.2"/>
<line x1="646.4" y1="9.1" x2="646.4" y2="14.1"/>
<line x1="637.7" y1="9.1" x2="637.7" y2="14.1"/>
<line x1="630.4" y1="9.1" x2="630.4" y2="14.1"/>
<line x1="624.0" y1="9.1" x2="624.0" y2="14.1"/>
<line x1="618.5" y1="9.1" x2="618.5" y2="14.1"/>
</g>
<rect x="218.8" y="9.1" width="437.4" height="503.0" fill="none" stroke="#000" stroke-width="2.1" stroke-linejoin="round"/>
<g filter="url(#g)" stroke="#000" stroke-width="0.25">
<text transform="translate(257.0,31.4) scale(1,1.000)" font-size="23.2" style="fill:#dda0dd;stroke:#dda0dd">OVI</text>
<text transform="translate(257.0,53.5) scale(1,1.000)" font-size="23.2" style="fill:#0000ff;stroke:#0000ff">CII</text>
<text transform="translate(257.0,75.7) scale(1,1.000)" font-size="23.2" style="fill:#ff0000;stroke:#ff0000">NII</text>
<text transform="translate(257.0,97.8) scale(1,1.000)" font-size="23.2" style="fill:#cd5c5c;stroke:#cd5c5c">NIII</text>
<text transform="translate(257.0,120.0) scale(1,1.000)" font-size="23.2" style="fill:#228b22;stroke:#228b22">MgI</text>
<text transform="translate(257.0,142.2) scale(1,1.000)" font-size="23.2" style="fill:#00ff00;stroke:#00ff00">MgII</text>
<text transform="translate(257.0,164.3) scale(1,1.000)" font-size="23.2" style="fill:#000000;stroke:#000000">SiII</text>
<text transform="translate(257.0,186.4) scale(1,1.000)" font-size="23.2" style="fill:#696969;stroke:#696969">SiIII</text>
<text transform="translate(257.0,208.6) scale(1,1.000)" font-size="23.2" style="fill:#c0c0c0;stroke:#c0c0c0">SiIV</text>
<text transform="translate(212.3,513.0) scale(1,1.030)" font-size="23.2" text-anchor="end" style="fill:#000;stroke:#000">10</text>
<text transform="translate(212.3,419.2) scale(1,1.030)" font-size="23.2" text-anchor="end" style="fill:#000;stroke:#000">11</text>
<text transform="translate(212.3,318.6) scale(1,1.030)" font-size="23.2" text-anchor="end" style="fill:#000;stroke:#000">12</text>
<text transform="translate(212.3,218.0) scale(1,1.030)" font-size="23.2" text-anchor="end" style="fill:#000;stroke:#000">13</text>
<text transform="translate(212.3,117.4) scale(1,1.030)" font-size="23.2" text-anchor="end" style="fill:#000;stroke:#000">14</text>
<text transform="translate(212.3,23.6) scale(1,1.030)" font-size="23.2" text-anchor="end" style="fill:#000;stroke:#000">15</text>
<text transform="translate(218.8,541.6) scale(1,1.030)" font-size="23.2" text-anchor="middle" style="fill:#000;stroke:#000">−5</text>
<text transform="translate(328.2,541.6) scale(1,1.030)" font-size="23.2" text-anchor="middle" style="fill:#000;stroke:#000">−4</text>
<text transform="translate(437.5,541.6) scale(1,1.030)" font-size="23.2" text-anchor="middle" style="fill:#000;stroke:#000">−3</text>
<text transform="translate(546.9,541.6) scale(1,1.030)" font-size="23.2" text-anchor="middle" style="fill:#000;stroke:#000">−2</text>
<text transform="translate(656.2,541.6) scale(1,1.030)" font-size="23.2" text-anchor="middle" style="fill:#000;stroke:#000">−1</text>
<text transform="translate(437.0,566.7) scale(1,1.000)" font-size="23.2" text-anchor="middle" style="fill:#000;stroke:#000">log U</text>
<text transform="translate(170,324.3) rotate(-90) scale(1,1.000)" font-size="23.2">log N<tspan font-size="15.2" dy="5.5">X</tspan><tspan dy="-5.5"> [cm</tspan><tspan font-size="15.2" dy="-8.5">−2</tspan><tspan dy="8.5">]</tspan></text>
<text x="289.4" y="1.2" font-size="21" text-anchor="end">10</text>
<text x="398.8" y="1.2" font-size="21" text-anchor="end">10</text>
<text x="508.1" y="1.2" font-size="21" text-anchor="end">10</text>
<text x="617.5" y="1.2" font-size="21" text-anchor="end">10</text>
<text x="503" y="442.3" font-size="18.4">J1112+3539 236_14</text>
<text x="503" y="468" font-size="18.4">Log N<tspan font-size="10.9" dy="4.5">HI</tspan><tspan dy="-4.5"> = 15.8</tspan></text>
<text x="503" y="497.5" font-size="18.4">Log Z/Z<tspan font-size="11.1" dy="4.5">sun</tspan><tspan dy="-4.5"> = −0.3</tspan></text>
</g>
</svg></body></html>
